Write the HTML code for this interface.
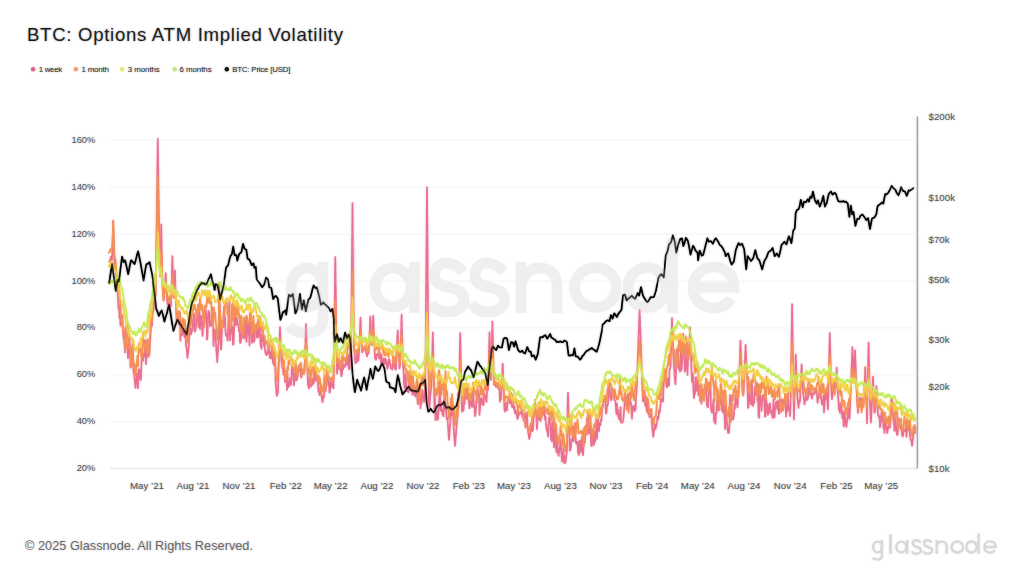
<!DOCTYPE html>
<html><head><meta charset="utf-8"><style>
html,body{margin:0;padding:0;background:#fff;width:1024px;height:576px;overflow:hidden}
svg{display:block;font-family:"Liberation Sans",sans-serif}
</style></head><body>
<svg width="1024" height="576" viewBox="0 0 1024 576">
<defs><filter id="sb" x="0" y="0" width="1024" height="576" filterUnits="userSpaceOnUse"><feGaussianBlur stdDeviation="1"/></filter></defs><g id="chart">
<text x="27" y="41.2" font-size="18.6" fill="#1e1e1e" textLength="316" lengthAdjust="spacing">BTC: Options ATM Implied Volatility</text>
<circle cx="33.1" cy="69.3" r="2.2" fill="#e0638a"/>
<text x="38.7" y="72.2" font-size="7.9" fill="#2a2a2a" textLength="23.5" lengthAdjust="spacing">1 week</text>
<circle cx="75.8" cy="69.3" r="2.2" fill="#f0a070"/>
<text x="81.4" y="72.2" font-size="7.9" fill="#2a2a2a" textLength="27.6" lengthAdjust="spacing">1 month</text>
<circle cx="122.2" cy="69.3" r="2.2" fill="#e6e87a"/>
<text x="127.8" y="72.2" font-size="7.9" fill="#2a2a2a" textLength="32" lengthAdjust="spacing">3 months</text>
<circle cx="174.6" cy="69.3" r="2.2" fill="#c5e88a"/>
<text x="179.5" y="72.2" font-size="7.9" fill="#2a2a2a" textLength="32.1" lengthAdjust="spacing">6 months</text>
<circle cx="226.8" cy="69.3" r="2.2" fill="#111"/>
<text x="232.2" y="72.2" font-size="7.9" fill="#2a2a2a" textLength="58.3" lengthAdjust="spacing">BTC: Price [USD]</text>
<line x1="109" y1="140.4" x2="917" y2="140.4" stroke="#f6f6f6" stroke-width="1"/>
<line x1="109" y1="187.3" x2="917" y2="187.3" stroke="#f6f6f6" stroke-width="1"/>
<line x1="109" y1="234.1" x2="917" y2="234.1" stroke="#f6f6f6" stroke-width="1"/>
<line x1="109" y1="281.0" x2="917" y2="281.0" stroke="#f6f6f6" stroke-width="1"/>
<line x1="109" y1="327.8" x2="917" y2="327.8" stroke="#f6f6f6" stroke-width="1"/>
<line x1="109" y1="374.7" x2="917" y2="374.7" stroke="#f6f6f6" stroke-width="1"/>
<line x1="109" y1="421.5" x2="917" y2="421.5" stroke="#f6f6f6" stroke-width="1"/>
<g fill="none" stroke="#efefef" stroke-width="10.5"><ellipse cx="307" cy="287.5" rx="16" ry="19.5"/>
<path d="M323,262 L323,318 Q323,333 306,333 Q294,333 289,326"/>
<path d="M353.8,241 L353.8,313" stroke-width="3"/>
<ellipse cx="393" cy="287.5" rx="18" ry="19.5"/>
<path d="M414.5,262 L414.5,313"/>
<path d="M463,272 C459,266 452,263 447,263 C438,263 434.5,269 434.5,275 C434.5,293 464,282 464,300 C464,307 457,312 448,312 C440,312 434,309 431,303"/>
<path d="M503.5,272 C499.5,266 492.5,263 487.5,263 C478.5,263 475,269 475,275 C475,293 504.5,282 504.5,300 C504.5,307 497.5,312 488.5,312 C480.5,312 474.5,309 471.5,303"/>
<path d="M521,262 L521,313 M521,290 C521,272 531,268 540,268 C551,268 557,275 557,287 L557,313"/>
<ellipse cx="595.5" cy="287.5" rx="21" ry="20"/>
<ellipse cx="647" cy="287.5" rx="19" ry="20"/>
<path d="M672.5,238 L672.5,313"/>
<path d="M693,287.5 L734,287.5 C734,274 725,267 713.5,267 C702,267 693,276 693,287.5 C693,299 702,308 713.5,308 C721,308 727,305 731,299"/></g>
<line x1="110" y1="468.4" x2="917.4" y2="468.4" stroke="#e6e6e6" stroke-width="1"/>
<line x1="917.4" y1="116.6" x2="917.4" y2="468.4" stroke="#a3a3a3" stroke-width="1.4"/>
<text x="95.3" y="143.0" font-size="9.3" fill="#555" text-anchor="end">160%</text>
<text x="95.3" y="189.9" font-size="9.3" fill="#555" text-anchor="end">140%</text>
<text x="95.3" y="236.7" font-size="9.3" fill="#555" text-anchor="end">120%</text>
<text x="95.3" y="283.6" font-size="9.3" fill="#555" text-anchor="end">100%</text>
<text x="95.3" y="330.40000000000003" font-size="9.3" fill="#555" text-anchor="end">80%</text>
<text x="95.3" y="377.3" font-size="9.3" fill="#555" text-anchor="end">60%</text>
<text x="95.3" y="424.1" font-size="9.3" fill="#555" text-anchor="end">40%</text>
<text x="95.3" y="471.0" font-size="9.3" fill="#555" text-anchor="end">20%</text>
<text x="928.6" y="119.89999999999999" font-size="9.7" fill="#555">$200k</text>
<text x="928.6" y="201.3" font-size="9.7" fill="#555">$100k</text>
<text x="928.6" y="243.20000000000002" font-size="9.7" fill="#555">$70k</text>
<text x="928.6" y="282.7" font-size="9.7" fill="#555">$50k</text>
<text x="928.6" y="342.7" font-size="9.7" fill="#555">$30k</text>
<text x="928.6" y="390.3" font-size="9.7" fill="#555">$20k</text>
<text x="928.6" y="471.7" font-size="9.7" fill="#555">$10k</text>
<text x="147" y="488.6" font-size="9.7" fill="#4f4f4f" text-anchor="middle">May &#8217;21</text>
<text x="193" y="488.6" font-size="9.7" fill="#4f4f4f" text-anchor="middle">Aug &#8217;21</text>
<text x="239" y="488.6" font-size="9.7" fill="#4f4f4f" text-anchor="middle">Nov &#8217;21</text>
<text x="285.8" y="488.6" font-size="9.7" fill="#4f4f4f" text-anchor="middle">Feb &#8217;22</text>
<text x="330.6" y="488.6" font-size="9.7" fill="#4f4f4f" text-anchor="middle">May &#8217;22</text>
<text x="376.9" y="488.6" font-size="9.7" fill="#4f4f4f" text-anchor="middle">Aug &#8217;22</text>
<text x="423" y="488.6" font-size="9.7" fill="#4f4f4f" text-anchor="middle">Nov &#8217;22</text>
<text x="468.8" y="488.6" font-size="9.7" fill="#4f4f4f" text-anchor="middle">Feb &#8217;23</text>
<text x="514" y="488.6" font-size="9.7" fill="#4f4f4f" text-anchor="middle">May &#8217;23</text>
<text x="560.4" y="488.6" font-size="9.7" fill="#4f4f4f" text-anchor="middle">Aug &#8217;23</text>
<text x="606" y="488.6" font-size="9.7" fill="#4f4f4f" text-anchor="middle">Nov &#8217;23</text>
<text x="652.2" y="488.6" font-size="9.7" fill="#4f4f4f" text-anchor="middle">Feb &#8217;24</text>
<text x="697.8" y="488.6" font-size="9.7" fill="#4f4f4f" text-anchor="middle">May &#8217;24</text>
<text x="744" y="488.6" font-size="9.7" fill="#4f4f4f" text-anchor="middle">Aug &#8217;24</text>
<text x="790.2" y="488.6" font-size="9.7" fill="#4f4f4f" text-anchor="middle">Nov &#8217;24</text>
<text x="836.5" y="488.6" font-size="9.7" fill="#4f4f4f" text-anchor="middle">Feb &#8217;25</text>
<text x="881.2" y="488.6" font-size="9.7" fill="#4f4f4f" text-anchor="middle">May &#8217;25</text>
<path d="M108.5,261.5 L109.0,261.6 L109.5,260.9 L110.0,260.7 L110.5,258.6 L111.0,256.8 L111.5,260.9 L112.0,259.1 L112.5,244.0 L113.0,227.2 L113.2,220.5 L113.5,230.6 L114.0,247.6 L114.5,264.6 L115.0,268.0 L115.5,269.7 L116.0,269.8 L116.5,281.3 L117.0,283.9 L117.5,291.0 L118.0,298.9 L118.5,309.0 L119.0,305.2 L119.5,318.0 L120.0,315.3 L120.5,325.8 L121.0,323.9 L121.5,320.6 L122.0,321.6 L122.5,315.4 L123.0,331.5 L123.5,338.7 L124.0,338.8 L124.5,343.3 L125.0,352.4 L125.5,327.2 L126.0,339.9 L126.5,340.7 L127.0,345.6 L127.5,345.9 L128.0,358.2 L128.5,354.5 L129.0,334.9 L129.5,335.0 L130.0,349.1 L130.5,367.8 L131.0,355.8 L131.5,365.7 L132.0,352.8 L132.5,347.2 L133.0,349.5 L133.5,372.9 L134.0,372.2 L134.5,378.1 L135.0,383.4 L135.5,388.0 L136.0,383.4 L136.5,378.6 L137.0,373.7 L137.5,378.6 L138.0,388.2 L138.5,369.4 L139.0,369.3 L139.5,370.4 L140.0,377.0 L140.5,380.2 L141.0,378.7 L141.5,361.1 L142.0,356.9 L142.5,357.6 L143.0,360.8 L143.5,357.1 L144.0,353.3 L144.5,356.6 L145.0,340.1 L145.5,343.0 L146.0,364.2 L146.5,356.3 L147.0,352.1 L147.5,348.7 L148.0,348.7 L148.5,356.7 L149.0,355.0 L149.5,354.3 L150.0,342.1 L150.5,335.6 L151.0,326.9 L151.5,315.5 L152.0,325.9 L152.5,315.6 L153.0,312.4 L153.5,310.1 L154.0,301.9 L154.5,303.7 L155.0,294.2 L155.5,295.9 L156.0,270.7 L156.5,233.0 L157.0,196.1 L157.5,159.9 L157.8,138.6 L158.0,152.7 L158.5,187.7 L159.0,222.7 L159.5,257.5 L160.0,275.3 L160.5,254.8 L161.0,233.3 L161.2,224.4 L161.5,237.9 L162.0,260.8 L162.5,284.3 L163.0,292.9 L163.5,300.6 L164.0,293.8 L164.5,292.3 L165.0,286.0 L165.5,277.0 L165.7,273.2 L166.0,279.0 L166.5,289.0 L167.0,299.6 L167.5,304.1 L168.0,299.2 L168.5,307.1 L169.0,308.0 L169.5,302.0 L170.0,306.0 L170.5,306.7 L171.0,305.0 L171.5,287.9 L172.0,270.4 L172.4,256.0 L172.5,259.6 L173.0,278.2 L173.5,297.2 L174.0,296.4 L174.5,282.1 L174.9,270.3 L175.0,273.3 L175.5,288.6 L176.0,304.4 L176.5,320.7 L177.0,317.2 L177.5,317.0 L178.0,313.0 L178.5,321.0 L179.0,324.4 L179.5,324.6 L180.0,323.4 L180.5,340.8 L181.0,321.3 L181.5,328.5 L182.0,335.2 L182.5,325.7 L183.0,333.8 L183.5,332.8 L184.0,329.4 L184.5,337.3 L185.0,335.5 L185.5,330.7 L186.0,345.9 L186.5,346.8 L187.0,352.7 L187.5,358.0 L188.0,353.2 L188.5,348.6 L189.0,343.7 L189.5,329.7 L190.0,331.0 L190.5,328.2 L191.0,334.4 L191.5,332.0 L192.0,330.7 L192.5,328.0 L193.0,319.7 L193.5,318.2 L194.0,313.5 L194.5,331.2 L195.0,331.5 L195.5,330.3 L196.0,325.9 L196.5,312.5 L197.0,312.1 L197.5,312.8 L198.0,320.6 L198.5,327.0 L199.0,321.4 L199.5,311.9 L200.0,329.2 L200.5,322.9 L201.0,318.6 L201.5,315.8 L202.0,323.7 L202.5,335.9 L203.0,328.3 L203.5,323.5 L204.0,315.7 L204.5,322.6 L205.0,307.1 L205.5,308.7 L206.0,311.0 L206.5,319.5 L207.0,339.6 L207.5,336.5 L208.0,319.2 L208.5,310.8 L209.0,312.3 L209.5,313.7 L210.0,326.3 L210.5,321.6 L211.0,323.6 L211.5,325.2 L212.0,306.9 L212.5,322.9 L213.0,322.1 L213.5,346.1 L214.0,330.2 L214.5,337.8 L215.0,329.5 L215.5,335.8 L216.0,343.9 L216.5,351.4 L217.0,358.4 L217.2,362.3 L217.5,357.1 L218.0,350.4 L218.5,343.6 L218.9,338.1 L219.0,282.8 L219.5,300.6 L220.0,318.3 L220.5,335.8 L221.0,349.6 L221.5,342.7 L222.0,329.4 L222.5,323.9 L223.0,322.6 L223.5,326.9 L224.0,306.6 L224.5,316.8 L225.0,316.7 L225.5,331.5 L226.0,335.6 L226.5,334.2 L227.0,334.5 L227.5,340.7 L228.0,335.5 L228.5,315.6 L229.0,322.5 L229.5,300.6 L230.0,340.5 L230.5,331.9 L231.0,333.7 L231.5,326.5 L232.0,326.9 L232.5,326.9 L233.0,344.7 L233.5,344.5 L234.0,331.9 L234.5,321.0 L235.0,317.7 L235.5,321.3 L236.0,325.2 L236.5,320.2 L237.0,317.6 L237.5,323.3 L238.0,324.3 L238.5,325.1 L239.0,331.5 L239.5,327.9 L240.0,342.5 L240.5,342.9 L241.0,340.6 L241.5,333.4 L242.0,327.9 L242.5,333.0 L243.0,337.7 L243.5,333.4 L244.0,332.3 L244.5,338.5 L245.0,323.0 L245.5,318.7 L246.0,329.0 L246.5,341.7 L247.0,330.8 L247.5,322.1 L248.0,325.7 L248.5,334.4 L249.0,326.3 L249.5,345.6 L250.0,320.6 L250.5,312.2 L251.0,319.3 L251.5,333.2 L252.0,343.0 L252.5,337.9 L253.0,323.9 L253.5,338.6 L254.0,341.8 L254.5,340.8 L255.0,326.2 L255.5,325.6 L256.0,324.9 L256.5,330.5 L257.0,337.6 L257.5,328.4 L258.0,337.2 L258.5,335.8 L259.0,332.6 L259.5,316.0 L260.0,327.8 L260.5,343.7 L261.0,346.0 L261.5,348.9 L262.0,334.0 L262.5,341.1 L263.0,340.4 L263.5,337.0 L264.0,346.3 L264.5,336.6 L265.0,349.9 L265.5,353.1 L266.0,354.2 L266.5,355.2 L267.0,354.4 L267.5,351.4 L268.0,349.6 L268.5,353.3 L269.0,347.5 L269.5,352.3 L270.0,358.1 L270.5,352.7 L271.0,358.4 L271.5,354.3 L272.0,347.3 L272.5,348.6 L273.0,363.3 L273.5,355.7 L274.0,365.4 L274.5,354.1 L275.0,356.5 L275.5,379.6 L276.0,387.0 L276.5,393.0 L276.8,396.0 L277.0,394.1 L277.5,394.1 L278.0,391.6 L278.5,375.1 L279.0,355.3 L279.5,340.6 L280.0,327.0 L280.5,339.6 L281.0,351.2 L281.5,361.8 L282.0,364.1 L282.5,368.3 L283.0,368.4 L283.5,374.7 L284.0,368.4 L284.5,373.8 L285.0,381.9 L285.5,379.2 L286.0,379.4 L286.5,381.0 L287.0,390.1 L287.5,372.9 L288.0,385.2 L288.5,387.0 L289.0,386.5 L289.5,383.6 L290.0,378.3 L290.5,380.5 L291.0,384.8 L291.5,375.4 L292.0,364.1 L292.5,371.6 L293.0,367.2 L293.5,379.1 L294.0,385.5 L294.5,377.6 L295.0,377.7 L295.5,369.2 L296.0,380.1 L296.5,380.3 L297.0,379.4 L297.5,374.0 L298.0,370.6 L298.5,366.2 L299.0,365.4 L299.5,370.6 L300.0,368.5 L300.5,369.8 L301.0,376.7 L301.5,377.6 L302.0,369.5 L302.5,372.3 L303.0,372.5 L303.5,370.7 L304.0,373.1 L304.5,371.8 L305.0,356.1 L305.5,340.1 L306.0,324.0 L306.5,340.3 L307.0,356.8 L307.5,373.5 L308.0,385.0 L308.5,386.2 L309.0,388.5 L309.5,379.8 L310.0,376.0 L310.5,382.4 L311.0,386.6 L311.5,380.2 L312.0,385.1 L312.5,378.5 L313.0,382.3 L313.5,383.7 L314.0,380.4 L314.5,370.4 L315.0,373.2 L315.5,376.4 L316.0,380.8 L316.5,376.5 L317.0,376.6 L317.5,376.4 L318.0,384.9 L318.5,391.8 L319.0,391.1 L319.5,395.1 L320.0,388.6 L320.5,393.2 L321.0,391.6 L321.5,395.4 L322.0,398.9 L322.5,402.0 L323.0,398.9 L323.5,395.5 L324.0,397.3 L324.5,387.7 L325.0,384.1 L325.5,391.3 L326.0,387.8 L326.5,374.7 L327.0,368.1 L327.5,372.3 L328.0,381.2 L328.5,385.6 L329.0,381.9 L329.5,392.7 L330.0,391.4 L330.5,382.3 L331.0,378.3 L331.5,380.9 L332.0,386.9 L332.5,385.6 L333.0,386.3 L333.5,388.4 L334.0,353.6 L334.5,315.8 L335.0,278.8 L335.3,257.0 L335.5,271.5 L336.0,307.6 L336.5,343.5 L337.0,373.8 L337.5,368.9 L338.0,366.0 L338.5,362.9 L339.0,368.8 L339.5,368.0 L340.0,360.8 L340.5,362.0 L341.0,374.2 L341.5,376.2 L342.0,373.9 L342.5,360.8 L343.0,369.5 L343.5,365.8 L344.0,365.1 L344.5,367.0 L345.0,365.8 L345.5,365.3 L346.0,361.4 L346.5,362.4 L347.0,364.7 L347.5,356.5 L348.0,354.9 L348.5,361.3 L349.0,369.0 L349.5,369.3 L350.0,350.9 L350.5,356.7 L351.0,348.0 L351.5,299.3 L352.0,251.0 L352.5,203.0 L353.0,251.0 L353.5,298.9 L354.0,346.8 L354.5,352.1 L355.0,359.0 L355.5,363.2 L356.0,361.5 L356.5,362.2 L357.0,353.9 L357.5,361.4 L358.0,355.6 L358.5,360.3 L359.0,353.3 L359.5,341.2 L360.0,329.3 L360.5,317.6 L361.0,329.2 L361.5,340.6 L362.0,351.8 L362.5,352.2 L363.0,349.1 L363.5,350.2 L364.0,347.5 L364.5,348.6 L365.0,349.0 L365.5,348.6 L366.0,352.6 L366.5,353.0 L367.0,356.3 L367.5,353.6 L368.0,353.1 L368.5,353.5 L369.0,346.7 L369.5,335.2 L370.0,323.6 L370.3,316.6 L370.5,321.3 L371.0,333.0 L371.5,344.8 L372.0,344.7 L372.5,332.6 L373.0,320.6 L373.2,315.7 L373.5,323.0 L374.0,335.2 L374.5,347.5 L375.0,358.7 L375.5,355.0 L376.0,359.9 L376.5,356.1 L377.0,354.2 L377.5,354.0 L378.0,355.1 L378.5,352.4 L379.0,358.4 L379.5,358.2 L380.0,352.9 L380.5,355.7 L381.0,363.0 L381.5,354.7 L382.0,359.5 L382.5,365.2 L383.0,363.7 L383.5,360.4 L384.0,358.6 L384.5,363.3 L385.0,363.9 L385.5,358.6 L386.0,360.6 L386.5,362.6 L387.0,366.1 L387.5,368.6 L388.0,366.9 L388.5,360.7 L389.0,359.1 L389.5,359.7 L390.0,364.4 L390.5,364.1 L391.0,368.3 L391.5,368.9 L392.0,368.3 L392.5,369.5 L393.0,360.7 L393.5,363.1 L394.0,366.4 L394.5,361.8 L395.0,369.0 L395.5,366.9 L396.0,369.6 L396.5,355.8 L397.0,345.3 L397.5,334.6 L397.7,330.3 L398.0,336.8 L398.5,347.9 L399.0,359.2 L399.5,368.5 L400.0,365.0 L400.5,351.1 L401.0,334.9 L401.5,318.1 L401.6,314.7 L402.0,328.7 L402.5,346.8 L403.0,365.5 L403.5,370.3 L404.0,383.2 L404.5,387.0 L405.0,388.3 L405.5,374.1 L406.0,379.9 L406.5,388.8 L407.0,391.2 L407.5,387.4 L408.0,390.5 L408.5,392.3 L409.0,388.9 L409.5,377.1 L410.0,386.1 L410.5,382.8 L411.0,373.5 L411.5,372.1 L412.0,376.4 L412.5,394.7 L413.0,390.0 L413.5,382.2 L414.0,394.4 L414.5,391.3 L415.0,395.7 L415.5,396.6 L416.0,389.7 L416.5,394.4 L417.0,384.3 L417.5,401.5 L418.0,404.3 L418.5,399.1 L419.0,396.9 L419.5,388.7 L420.0,391.5 L420.5,408.5 L421.0,395.5 L421.5,403.9 L422.0,397.1 L422.5,390.1 L423.0,396.4 L423.5,396.3 L424.0,401.7 L424.5,399.4 L425.0,391.9 L425.5,359.2 L426.0,301.8 L426.5,244.4 L427.0,187.0 L427.5,244.6 L428.0,302.6 L428.5,360.8 L429.0,404.1 L429.5,407.0 L430.0,399.6 L430.5,393.8 L431.0,389.9 L431.5,384.1 L432.0,365.8 L432.5,345.0 L432.8,332.3 L433.0,340.8 L433.5,362.4 L434.0,384.3 L434.5,410.7 L435.0,397.8 L435.5,420.2 L436.0,420.0 L436.5,418.1 L437.0,413.3 L437.5,411.0 L438.0,419.6 L438.5,408.7 L439.0,401.5 L439.5,394.0 L440.0,381.4 L440.5,410.7 L441.0,402.5 L441.5,409.0 L442.0,410.2 L442.5,414.4 L443.0,415.4 L443.5,416.2 L444.0,400.2 L444.5,398.9 L445.0,389.7 L445.5,410.3 L446.0,406.1 L446.5,416.8 L447.0,419.3 L447.5,417.5 L448.0,425.2 L448.5,432.7 L449.0,440.0 L449.5,433.1 L450.0,426.4 L450.5,420.1 L451.0,412.8 L451.5,408.3 L452.0,400.4 L452.5,415.5 L453.0,405.9 L453.5,424.4 L454.0,432.0 L454.5,439.2 L455.0,446.0 L455.5,439.7 L456.0,433.8 L456.5,427.4 L457.0,421.5 L457.5,416.4 L458.0,393.3 L458.5,397.4 L459.0,395.5 L459.5,368.9 L460.0,343.2 L460.2,333.2 L460.5,347.9 L461.0,371.5 L461.5,394.0 L462.0,411.8 L462.5,403.7 L463.0,407.6 L463.5,410.6 L464.0,399.0 L464.5,403.8 L465.0,388.2 L465.5,397.2 L466.0,398.6 L466.5,394.8 L467.0,386.7 L467.5,398.8 L468.0,397.7 L468.5,399.4 L469.0,402.9 L469.5,408.4 L470.0,404.3 L470.5,400.1 L471.0,394.5 L471.5,401.0 L472.0,406.9 L472.5,396.7 L473.0,382.6 L473.5,398.2 L474.0,407.1 L474.5,406.4 L475.0,416.1 L475.5,414.2 L476.0,408.4 L476.5,399.4 L477.0,402.2 L477.5,390.4 L478.0,390.3 L478.5,395.7 L479.0,393.3 L479.5,414.9 L480.0,408.3 L480.5,402.0 L481.0,397.8 L481.5,403.3 L482.0,401.7 L482.5,399.0 L483.0,405.2 L483.5,405.0 L484.0,395.7 L484.5,393.9 L485.0,395.9 L485.5,398.0 L486.0,399.1 L486.5,401.9 L487.0,389.4 L487.5,383.9 L488.0,390.4 L488.5,370.4 L489.0,351.1 L489.5,332.3 L490.0,350.4 L490.5,368.0 L491.0,380.0 L491.5,358.6 L492.0,337.8 L492.4,321.5 L492.5,325.5 L493.0,345.4 L493.5,364.9 L494.0,385.1 L494.5,385.0 L495.0,383.3 L495.5,384.9 L496.0,386.8 L496.5,384.4 L497.0,387.0 L497.5,386.4 L498.0,387.9 L498.5,388.3 L499.0,388.5 L499.5,390.8 L500.0,401.8 L500.5,393.4 L501.0,399.1 L501.5,389.4 L502.0,379.1 L502.5,368.1 L502.7,363.5 L503.0,370.5 L503.5,382.8 L504.0,395.7 L504.5,409.6 L505.0,411.6 L505.5,406.9 L506.0,403.2 L506.5,404.6 L507.0,410.5 L507.5,402.3 L508.0,401.1 L508.5,400.5 L509.0,397.1 L509.5,401.1 L510.0,403.4 L510.5,401.2 L511.0,396.8 L511.5,399.0 L512.0,406.9 L512.5,407.1 L513.0,404.3 L513.5,406.0 L514.0,409.7 L514.5,406.6 L515.0,413.3 L515.5,412.2 L516.0,410.7 L516.5,414.2 L517.0,415.9 L517.5,419.1 L518.0,417.3 L518.5,412.1 L519.0,415.0 L519.5,413.8 L520.0,412.5 L520.5,412.1 L521.0,413.5 L521.5,411.1 L522.0,413.7 L522.5,416.8 L523.0,415.4 L523.5,420.6 L524.0,420.5 L524.5,410.7 L525.0,423.1 L525.5,427.6 L526.0,424.4 L526.5,414.4 L527.0,412.3 L527.5,426.3 L528.0,430.5 L528.5,434.2 L529.0,437.4 L529.3,439.0 L529.5,438.0 L530.0,435.3 L530.5,432.4 L531.0,429.4 L531.5,423.1 L532.0,421.8 L532.5,431.1 L533.0,430.2 L533.5,419.8 L534.0,415.1 L534.5,407.1 L535.0,399.6 L535.5,406.6 L536.0,413.2 L536.5,419.2 L537.0,429.1 L537.5,418.7 L538.0,413.0 L538.5,419.6 L539.0,413.7 L539.5,411.8 L540.0,418.5 L540.5,421.3 L541.0,418.1 L541.5,414.7 L542.0,415.9 L542.5,413.7 L543.0,414.8 L543.5,408.7 L544.0,405.3 L544.5,407.6 L545.0,419.8 L545.5,416.5 L546.0,424.7 L546.5,428.0 L547.0,431.1 L547.5,431.1 L548.0,436.7 L548.5,424.6 L549.0,417.9 L549.5,417.1 L550.0,421.4 L550.5,423.1 L551.0,439.2 L551.5,438.5 L552.0,441.5 L552.5,422.4 L553.0,420.7 L553.5,433.3 L554.0,447.5 L554.5,428.0 L555.0,435.4 L555.5,428.1 L556.0,447.5 L556.5,452.5 L557.0,441.3 L557.5,446.5 L558.0,451.1 L558.5,455.2 L558.6,456.0 L559.0,453.1 L559.5,449.7 L560.0,446.7 L560.5,439.8 L561.0,446.2 L561.5,454.6 L562.0,461.4 L562.5,458.4 L563.0,454.4 L563.5,447.7 L564.0,462.9 L564.5,456.0 L565.0,460.0 L565.4,463.0 L565.5,462.3 L566.0,458.4 L566.5,454.3 L567.0,449.9 L567.5,410.0 L568.0,392.8 L568.5,409.6 L569.0,425.8 L569.5,441.2 L570.0,450.6 L570.5,449.3 L571.0,446.5 L571.5,439.7 L572.0,440.7 L572.5,438.3 L573.0,426.3 L573.5,441.3 L574.0,429.2 L574.5,428.3 L575.0,422.9 L575.5,436.0 L576.0,443.3 L576.5,443.7 L577.0,442.3 L577.5,441.9 L578.0,451.6 L578.5,454.7 L579.0,454.9 L579.5,441.0 L580.0,440.9 L580.5,440.6 L581.0,452.0 L581.5,442.4 L582.0,436.8 L582.5,452.4 L583.0,455.3 L583.5,447.6 L584.0,443.3 L584.5,442.8 L585.0,441.8 L585.5,425.9 L586.0,427.6 L586.5,431.6 L587.0,417.8 L587.5,433.7 L588.0,421.0 L588.5,431.4 L589.0,433.4 L589.5,420.6 L590.0,420.8 L590.5,414.7 L591.0,442.8 L591.5,446.2 L592.0,445.8 L592.5,435.7 L593.0,429.9 L593.5,433.4 L594.0,444.9 L594.5,431.8 L595.0,442.0 L595.5,437.4 L596.0,432.2 L596.5,417.7 L597.0,438.8 L597.5,418.3 L598.0,416.1 L598.5,426.9 L599.0,431.3 L599.5,422.5 L600.0,424.5 L600.5,425.0 L601.0,419.4 L601.5,420.4 L602.0,409.8 L602.5,407.9 L603.0,404.5 L603.5,401.4 L604.0,401.6 L604.5,399.3 L605.0,400.3 L605.5,403.1 L606.0,413.7 L606.5,412.8 L607.0,405.0 L607.5,405.7 L608.0,403.4 L608.5,393.5 L609.0,384.6 L609.5,388.4 L610.0,392.0 L610.5,397.9 L611.0,400.3 L611.5,399.2 L612.0,388.0 L612.5,390.0 L613.0,390.8 L613.5,391.5 L614.0,396.5 L614.5,400.1 L615.0,400.8 L615.5,401.7 L616.0,408.7 L616.5,414.3 L617.0,403.7 L617.5,412.3 L618.0,410.0 L618.5,417.8 L619.0,417.7 L619.5,419.9 L620.0,414.5 L620.5,407.0 L621.0,422.6 L621.5,422.7 L622.0,422.6 L622.5,422.6 L623.0,421.0 L623.5,417.6 L624.0,411.2 L624.5,405.7 L625.0,395.3 L625.5,399.2 L626.0,404.4 L626.5,403.4 L627.0,396.0 L627.5,405.3 L628.0,393.5 L628.5,407.2 L629.0,403.0 L629.5,403.9 L630.0,400.4 L630.5,404.3 L631.0,402.3 L631.5,411.7 L632.0,418.6 L632.5,406.0 L633.0,409.1 L633.5,406.7 L634.0,407.9 L634.5,411.3 L635.0,404.8 L635.5,410.0 L636.0,397.2 L636.5,392.4 L637.0,378.6 L637.5,365.4 L638.0,352.2 L638.5,339.0 L639.0,325.8 L639.5,312.5 L639.6,309.8 L640.0,320.5 L640.5,333.8 L641.0,347.4 L641.5,361.2 L642.0,375.2 L642.5,389.4 L643.0,401.5 L643.5,391.7 L644.0,390.3 L644.5,394.4 L645.0,404.1 L645.5,405.9 L646.0,399.9 L646.5,408.0 L647.0,411.7 L647.5,398.0 L648.0,412.8 L648.5,414.0 L649.0,409.3 L649.5,417.1 L650.0,409.5 L650.5,416.3 L651.0,413.5 L651.5,418.9 L652.0,424.7 L652.5,430.0 L653.0,434.6 L653.3,437.0 L653.5,435.4 L654.0,430.9 L654.5,425.6 L655.0,424.6 L655.5,429.2 L656.0,424.8 L656.5,425.7 L657.0,421.2 L657.5,416.7 L658.0,419.7 L658.5,417.6 L659.0,410.2 L659.5,412.9 L660.0,410.5 L660.5,404.6 L661.0,399.0 L661.5,401.3 L662.0,398.6 L662.5,398.3 L663.0,401.6 L663.5,386.4 L664.0,380.5 L664.5,379.8 L665.0,369.7 L665.5,369.6 L666.0,376.6 L666.5,386.6 L667.0,387.3 L667.5,382.4 L668.0,379.2 L668.5,377.9 L669.0,385.7 L669.5,370.2 L670.0,368.4 L670.5,367.3 L671.0,350.6 L671.5,334.2 L672.0,318.0 L672.5,333.9 L673.0,349.4 L673.5,358.0 L674.0,366.1 L674.5,373.7 L675.0,380.6 L675.5,384.4 L676.0,372.5 L676.5,349.8 L677.0,359.0 L677.5,348.0 L678.0,354.1 L678.5,364.6 L679.0,369.3 L679.5,366.6 L680.0,371.6 L680.5,355.7 L681.0,344.8 L681.5,370.0 L682.0,363.1 L682.5,350.5 L683.0,333.6 L683.5,354.2 L684.0,353.8 L684.5,361.6 L685.0,371.8 L685.5,369.6 L686.0,364.1 L686.5,342.2 L687.0,356.9 L687.5,375.1 L688.0,358.7 L688.5,358.9 L689.0,352.6 L689.5,340.3 L690.0,327.3 L690.5,341.2 L691.0,355.8 L691.5,369.4 L692.0,381.9 L692.5,381.1 L693.0,373.7 L693.5,391.8 L694.0,398.1 L694.5,393.1 L695.0,394.0 L695.5,377.4 L696.0,377.2 L696.5,385.7 L697.0,390.9 L697.5,380.1 L698.0,388.5 L698.5,395.3 L699.0,379.8 L699.5,392.4 L700.0,393.2 L700.5,399.2 L701.0,401.4 L701.5,403.6 L702.0,393.4 L702.5,389.5 L703.0,395.5 L703.5,395.1 L704.0,394.6 L704.5,388.7 L705.0,385.8 L705.5,392.4 L706.0,378.6 L706.5,395.1 L707.0,406.1 L707.5,398.5 L708.0,407.4 L708.5,397.4 L709.0,393.5 L709.5,389.3 L710.0,382.0 L710.5,385.2 L711.0,408.3 L711.5,411.0 L712.0,412.7 L712.5,409.7 L713.0,404.8 L713.5,399.6 L714.0,420.2 L714.5,422.4 L715.0,416.1 L715.5,423.8 L716.0,412.6 L716.5,413.6 L717.0,402.4 L717.5,396.7 L718.0,392.6 L718.5,410.4 L719.0,401.2 L719.5,398.4 L720.0,398.7 L720.5,403.8 L721.0,399.6 L721.5,396.9 L722.0,410.7 L722.5,406.8 L723.0,412.7 L723.5,406.4 L724.0,399.5 L724.5,414.8 L725.0,429.2 L725.5,423.2 L726.0,405.8 L726.5,416.3 L727.0,422.3 L727.5,427.9 L728.0,433.0 L728.5,427.9 L729.0,432.8 L729.5,423.9 L730.0,395.2 L730.5,408.0 L731.0,401.1 L731.5,401.2 L732.0,418.4 L732.5,416.9 L733.0,419.6 L733.5,417.7 L734.0,413.8 L734.5,404.0 L735.0,408.4 L735.5,393.7 L736.0,393.8 L736.5,401.4 L737.0,404.7 L737.5,407.4 L738.0,398.2 L738.5,395.7 L739.0,381.6 L739.5,367.8 L740.0,354.1 L740.5,340.6 L741.0,353.9 L741.5,366.9 L742.0,379.8 L742.5,392.4 L743.0,393.8 L743.5,394.4 L744.0,382.4 L744.5,370.5 L745.0,358.8 L745.5,347.2 L745.6,344.9 L746.0,354.1 L746.5,365.4 L747.0,376.5 L747.5,387.6 L748.0,407.9 L748.5,407.5 L749.0,396.7 L749.5,392.9 L750.0,400.2 L750.5,401.7 L751.0,404.4 L751.5,394.4 L752.0,383.2 L752.5,403.7 L753.0,405.8 L753.5,401.6 L754.0,403.5 L754.5,394.9 L755.0,386.7 L755.5,395.0 L756.0,394.5 L756.5,391.4 L757.0,382.9 L757.5,401.4 L758.0,387.5 L758.5,415.5 L759.0,417.8 L759.5,399.5 L760.0,391.9 L760.5,399.4 L761.0,401.0 L761.5,411.0 L762.0,401.9 L762.5,396.6 L763.0,395.4 L763.5,400.0 L764.0,394.6 L764.5,405.3 L765.0,416.6 L765.5,416.5 L766.0,397.1 L766.5,402.0 L767.0,411.9 L767.5,404.3 L768.0,414.9 L768.5,412.4 L769.0,408.7 L769.5,405.1 L770.0,403.3 L770.5,413.0 L771.0,413.0 L771.5,411.1 L772.0,414.1 L772.5,418.0 L773.0,410.9 L773.5,399.2 L774.0,414.2 L774.5,417.7 L775.0,409.1 L775.5,408.3 L776.0,402.2 L776.5,401.6 L777.0,403.0 L777.5,409.5 L778.0,400.3 L778.5,408.6 L779.0,414.0 L779.5,408.4 L780.0,400.8 L780.5,400.8 L781.0,405.7 L781.5,399.1 L782.0,399.8 L782.5,404.8 L783.0,410.7 L783.5,401.8 L784.0,399.6 L784.5,398.9 L785.0,400.2 L785.5,397.0 L786.0,416.8 L786.5,407.9 L787.0,411.8 L787.5,409.1 L788.0,395.7 L788.5,409.6 L789.0,408.0 L789.5,407.2 L790.0,416.2 L790.5,406.6 L791.0,375.0 L791.5,342.7 L792.0,310.4 L792.1,304.0 L792.5,329.7 L793.0,361.9 L793.5,393.9 L794.0,419.6 L794.5,396.1 L795.0,379.9 L795.5,364.0 L795.8,354.6 L796.0,360.8 L796.5,375.9 L797.0,390.7 L797.5,399.1 L798.0,402.6 L798.5,407.9 L799.0,401.0 L799.5,402.7 L800.0,400.7 L800.5,388.1 L801.0,377.1 L801.5,366.4 L801.6,364.3 L802.0,372.6 L802.5,382.6 L803.0,392.3 L803.5,396.2 L804.0,399.1 L804.5,404.4 L805.0,400.6 L805.5,400.1 L806.0,393.2 L806.5,399.5 L807.0,398.3 L807.5,400.0 L808.0,396.4 L808.5,396.6 L809.0,387.4 L809.5,392.9 L810.0,390.7 L810.5,394.8 L811.0,389.8 L811.5,391.9 L812.0,398.6 L812.5,394.4 L813.0,393.9 L813.5,393.3 L814.0,394.4 L814.5,388.7 L815.0,389.6 L815.5,389.7 L816.0,393.0 L816.5,389.3 L817.0,393.9 L817.5,402.8 L818.0,399.4 L818.5,397.5 L819.0,393.9 L819.5,394.4 L820.0,393.0 L820.5,387.5 L821.0,397.5 L821.5,400.5 L822.0,404.6 L822.5,403.2 L823.0,404.2 L823.5,395.6 L824.0,412.5 L824.5,404.9 L825.0,390.7 L825.5,390.5 L826.0,399.7 L826.5,390.4 L827.0,391.8 L827.5,402.4 L828.0,409.5 L828.5,384.4 L829.0,364.5 L829.5,344.8 L829.8,333.0 L830.0,340.8 L830.5,360.3 L831.0,379.6 L831.5,393.1 L832.0,399.3 L832.5,392.9 L833.0,389.2 L833.5,389.7 L834.0,381.7 L834.5,386.0 L835.0,387.4 L835.5,389.3 L836.0,381.2 L836.5,371.5 L836.7,367.5 L837.0,373.7 L837.5,384.4 L838.0,395.7 L838.5,401.4 L839.0,410.3 L839.5,408.7 L840.0,413.0 L840.5,403.0 L841.0,408.7 L841.5,407.0 L842.0,414.6 L842.5,418.4 L843.0,412.4 L843.5,425.4 L844.0,426.4 L844.5,410.9 L845.0,416.0 L845.5,420.1 L846.0,423.9 L846.4,427.0 L846.5,426.2 L847.0,422.2 L847.5,418.1 L848.0,414.0 L848.5,408.7 L849.0,409.6 L849.5,418.9 L850.0,409.1 L850.5,396.1 L851.0,383.1 L851.5,370.1 L852.0,357.3 L852.4,347.0 L852.5,349.6 L853.0,362.3 L853.5,375.0 L854.0,374.4 L854.5,362.3 L855.0,350.3 L855.5,362.3 L856.0,374.2 L856.5,386.0 L857.0,397.8 L857.5,406.7 L858.0,413.0 L858.5,400.4 L859.0,405.8 L859.5,397.1 L860.0,407.1 L860.5,403.8 L861.0,400.0 L861.5,398.1 L862.0,400.3 L862.5,404.9 L863.0,407.0 L863.5,404.9 L864.0,394.2 L864.5,386.0 L865.0,372.4 L865.2,367.0 L865.5,375.2 L866.0,389.0 L866.5,402.9 L867.0,423.4 L867.5,390.1 L868.0,368.6 L868.5,347.0 L868.6,342.7 L869.0,360.1 L869.5,382.0 L870.0,404.0 L870.5,414.1 L871.0,422.7 L871.5,411.2 L872.0,399.8 L872.5,388.2 L873.0,376.5 L873.5,388.4 L874.0,400.5 L874.5,412.8 L875.0,411.7 L875.5,404.6 L876.0,395.4 L876.5,386.0 L877.0,395.6 L877.5,405.4 L878.0,415.3 L878.5,416.2 L879.0,417.1 L879.5,416.1 L880.0,427.2 L880.5,423.2 L881.0,421.3 L881.5,412.3 L882.0,412.7 L882.5,412.5 L883.0,419.3 L883.5,428.1 L884.0,426.4 L884.5,432.9 L885.0,419.1 L885.5,420.9 L886.0,424.4 L886.5,427.8 L887.0,431.1 L887.3,433.0 L887.5,431.7 L888.0,428.7 L888.5,425.7 L889.0,425.2 L889.5,417.9 L890.0,427.8 L890.5,420.9 L891.0,413.7 L891.5,406.3 L892.0,399.0 L892.5,406.4 L893.0,412.5 L893.5,421.7 L894.0,422.7 L894.5,431.0 L895.0,425.9 L895.5,416.0 L896.0,425.2 L896.5,431.6 L897.0,434.8 L897.5,435.1 L898.0,428.0 L898.5,418.3 L899.0,419.3 L899.5,423.9 L900.0,425.9 L900.5,429.2 L901.0,426.8 L901.5,427.2 L902.0,435.5 L902.5,434.0 L903.0,436.4 L903.5,428.9 L904.0,431.2 L904.5,430.2 L905.0,430.8 L905.5,431.6 L906.0,425.7 L906.5,437.0 L907.0,429.3 L907.5,422.3 L908.0,430.1 L908.5,424.2 L909.0,425.3 L909.5,430.2 L910.0,435.0 L910.5,439.2 L911.0,439.4 L911.5,442.2 L912.0,445.3 L912.1,446.0 L912.5,442.9 L913.0,438.4 L913.5,433.2 L914.0,433.1 L914.5,431.7 L915.0,432.9 L915.5,426.8" fill="none" stroke="#eb7090" stroke-width="1.7" stroke-linejoin="round"/>
<path d="M108.5,251.7 L109.0,252.6 L109.5,252.0 L110.0,251.5 L110.5,249.2 L111.0,249.4 L111.5,248.9 L112.0,248.8 L112.5,243.1 L113.0,227.0 L113.2,220.5 L113.5,230.2 L114.0,246.2 L114.5,255.5 L115.0,257.8 L115.5,258.8 L116.0,265.2 L116.5,273.5 L117.0,277.4 L117.5,284.5 L118.0,293.3 L118.5,288.0 L119.0,284.8 L119.5,294.3 L120.0,301.4 L120.5,305.0 L121.0,313.7 L121.5,322.4 L122.0,318.5 L122.5,326.4 L123.0,331.3 L123.5,328.9 L124.0,331.6 L124.5,344.3 L125.0,338.9 L125.5,349.8 L126.0,346.5 L126.5,344.8 L127.0,339.5 L127.5,324.4 L128.0,333.4 L128.5,328.4 L129.0,343.0 L129.5,349.1 L130.0,347.9 L130.5,348.1 L131.0,366.6 L131.5,360.8 L132.0,347.5 L132.5,343.9 L133.0,358.6 L133.5,362.7 L134.0,367.0 L134.5,364.1 L135.0,371.5 L135.5,375.6 L136.0,368.9 L136.5,364.5 L137.0,360.0 L137.5,355.8 L138.0,366.5 L138.5,348.8 L139.0,343.4 L139.5,344.3 L140.0,352.0 L140.5,348.6 L141.0,356.4 L141.5,355.0 L142.0,358.4 L142.5,344.8 L143.0,332.1 L143.5,342.7 L144.0,345.5 L144.5,348.7 L145.0,348.7 L145.5,344.0 L146.0,345.1 L146.5,352.7 L147.0,341.7 L147.5,339.2 L148.0,342.5 L148.5,354.9 L149.0,348.5 L149.5,339.7 L150.0,336.9 L150.5,321.8 L151.0,319.1 L151.5,309.0 L152.0,321.3 L152.5,301.4 L153.0,297.2 L153.5,299.6 L154.0,297.5 L154.5,295.0 L155.0,292.4 L155.5,293.4 L156.0,269.6 L156.5,242.8 L157.0,216.7 L157.5,191.2 L157.8,176.2 L158.0,185.7 L158.5,210.3 L159.0,235.2 L159.5,260.4 L160.0,276.7 L160.5,266.5 L161.0,255.5 L161.2,250.7 L161.5,258.4 L162.0,271.4 L162.5,284.6 L163.0,295.6 L163.5,297.7 L164.0,298.7 L164.5,292.1 L165.0,288.5 L165.5,284.4 L165.7,282.8 L166.0,285.6 L166.5,290.6 L167.0,295.8 L167.5,294.6 L168.0,297.9 L168.5,301.2 L169.0,301.0 L169.5,298.7 L170.0,296.1 L170.5,301.8 L171.0,300.2 L171.5,291.7 L172.0,283.0 L172.4,275.8 L172.5,277.8 L173.0,287.5 L173.5,297.5 L174.0,297.9 L174.5,291.3 L174.9,285.8 L175.0,287.3 L175.5,294.9 L176.0,302.9 L176.5,307.6 L177.0,316.8 L177.5,321.2 L178.0,317.3 L178.5,315.7 L179.0,310.8 L179.5,317.3 L180.0,312.0 L180.5,317.6 L181.0,333.4 L181.5,327.8 L182.0,324.5 L182.5,322.7 L183.0,318.4 L183.5,323.1 L184.0,325.7 L184.5,319.6 L185.0,322.7 L185.5,329.3 L186.0,327.9 L186.5,333.1 L187.0,338.0 L187.5,342.7 L188.0,339.0 L188.5,334.8 L189.0,330.2 L189.5,312.8 L190.0,315.9 L190.5,326.1 L191.0,322.7 L191.5,319.0 L192.0,312.9 L192.5,312.5 L193.0,309.9 L193.5,305.7 L194.0,308.0 L194.5,304.5 L195.0,306.8 L195.5,310.2 L196.0,309.7 L196.5,317.7 L197.0,317.1 L197.5,311.7 L198.0,305.0 L198.5,304.3 L199.0,309.3 L199.5,310.9 L200.0,298.5 L200.5,303.3 L201.0,304.9 L201.5,310.2 L202.0,305.6 L202.5,305.2 L203.0,317.4 L203.5,314.0 L204.0,327.4 L204.5,310.6 L205.0,312.6 L205.5,305.0 L206.0,306.5 L206.5,306.9 L207.0,297.9 L207.5,302.0 L208.0,302.7 L208.5,297.2 L209.0,300.3 L209.5,297.6 L210.0,303.2 L210.5,300.5 L211.0,299.7 L211.5,308.8 L212.0,320.2 L212.5,321.0 L213.0,325.2 L213.5,319.5 L214.0,307.6 L214.5,315.2 L215.0,312.3 L215.5,317.8 L216.0,324.5 L216.5,331.1 L217.0,337.4 L217.2,339.9 L217.5,336.4 L218.0,330.4 L218.5,324.5 L218.9,319.7 L219.0,296.4 L219.5,303.7 L220.0,310.9 L220.5,318.1 L221.0,328.0 L221.5,320.4 L222.0,329.4 L222.5,325.4 L223.0,324.4 L223.5,312.7 L224.0,311.8 L224.5,314.3 L225.0,306.9 L225.5,301.7 L226.0,300.1 L226.5,301.5 L227.0,303.3 L227.5,314.8 L228.0,313.0 L228.5,312.9 L229.0,306.7 L229.5,326.1 L230.0,328.5 L230.5,326.2 L231.0,327.3 L231.5,326.2 L232.0,305.3 L232.5,303.4 L233.0,316.8 L233.5,321.5 L234.0,314.4 L234.5,303.0 L235.0,304.0 L235.5,316.7 L236.0,312.4 L236.5,315.3 L237.0,308.2 L237.5,315.0 L238.0,303.7 L238.5,309.2 L239.0,317.5 L239.5,314.7 L240.0,325.8 L240.5,330.0 L241.0,321.7 L241.5,315.9 L242.0,327.1 L242.5,331.6 L243.0,336.6 L243.5,332.5 L244.0,318.4 L244.5,317.4 L245.0,320.8 L245.5,320.4 L246.0,320.8 L246.5,315.5 L247.0,316.6 L247.5,320.0 L248.0,324.2 L248.5,322.3 L249.0,321.4 L249.5,322.0 L250.0,313.3 L250.5,313.0 L251.0,312.2 L251.5,327.1 L252.0,334.5 L252.5,330.2 L253.0,323.4 L253.5,316.0 L254.0,329.2 L254.5,329.2 L255.0,332.3 L255.5,325.0 L256.0,324.5 L256.5,328.5 L257.0,323.0 L257.5,328.6 L258.0,318.5 L258.5,318.4 L259.0,323.7 L259.5,326.7 L260.0,318.2 L260.5,317.6 L261.0,322.4 L261.5,331.5 L262.0,328.6 L262.5,326.2 L263.0,329.9 L263.5,335.9 L264.0,335.5 L264.5,335.7 L265.0,340.9 L265.5,341.7 L266.0,343.7 L266.5,343.3 L267.0,343.6 L267.5,340.5 L268.0,348.0 L268.5,349.3 L269.0,347.1 L269.5,348.7 L270.0,343.0 L270.5,342.8 L271.0,341.2 L271.5,340.5 L272.0,344.4 L272.5,352.2 L273.0,351.5 L273.5,355.6 L274.0,352.3 L274.5,350.5 L275.0,356.7 L275.5,367.2 L276.0,373.6 L276.5,377.9 L276.8,381.0 L277.0,379.1 L277.5,379.9 L278.0,371.2 L278.5,363.7 L279.0,354.0 L279.5,346.9 L280.0,340.2 L280.5,345.8 L281.0,351.1 L281.5,351.7 L282.0,356.5 L282.5,355.9 L283.0,364.4 L283.5,361.7 L284.0,360.0 L284.5,369.2 L285.0,372.4 L285.5,380.5 L286.0,376.3 L286.5,370.7 L287.0,374.8 L287.5,367.0 L288.0,370.4 L288.5,360.3 L289.0,364.7 L289.5,364.4 L290.0,357.4 L290.5,356.9 L291.0,359.3 L291.5,359.7 L292.0,359.9 L292.5,359.2 L293.0,363.1 L293.5,362.9 L294.0,367.4 L294.5,370.3 L295.0,366.4 L295.5,363.3 L296.0,364.1 L296.5,372.5 L297.0,373.7 L297.5,375.8 L298.0,376.4 L298.5,370.6 L299.0,366.9 L299.5,367.3 L300.0,365.1 L300.5,363.1 L301.0,363.0 L301.5,369.3 L302.0,369.8 L302.5,372.2 L303.0,374.1 L303.5,369.2 L304.0,374.5 L304.5,365.6 L305.0,357.8 L305.5,349.8 L306.0,341.7 L306.5,350.2 L307.0,358.8 L307.5,367.6 L308.0,372.8 L308.5,368.2 L309.0,373.4 L309.5,369.4 L310.0,376.5 L310.5,383.8 L311.0,375.6 L311.5,371.1 L312.0,367.3 L312.5,370.6 L313.0,366.8 L313.5,376.5 L314.0,372.2 L314.5,369.4 L315.0,364.8 L315.5,372.1 L316.0,370.8 L316.5,374.4 L317.0,375.7 L317.5,380.4 L318.0,380.2 L318.5,375.3 L319.0,377.6 L319.5,383.5 L320.0,378.1 L320.5,393.6 L321.0,384.1 L321.5,390.9 L322.0,388.5 L322.5,391.7 L323.0,388.7 L323.5,385.6 L324.0,382.4 L324.5,375.1 L325.0,391.0 L325.5,385.7 L326.0,383.5 L326.5,374.2 L327.0,376.5 L327.5,371.9 L328.0,374.7 L328.5,376.3 L329.0,376.4 L329.5,378.3 L330.0,380.0 L330.5,381.0 L331.0,380.5 L331.5,378.2 L332.0,379.6 L332.5,377.1 L333.0,375.5 L333.5,380.2 L334.0,355.0 L334.5,333.1 L335.0,311.8 L335.3,299.5 L335.5,307.5 L336.0,327.4 L336.5,347.4 L337.0,363.1 L337.5,362.5 L338.0,358.9 L338.5,355.8 L339.0,359.6 L339.5,361.0 L340.0,366.2 L340.5,367.9 L341.0,367.7 L341.5,360.7 L342.0,355.7 L342.5,360.4 L343.0,354.4 L343.5,360.4 L344.0,357.9 L344.5,357.9 L345.0,358.6 L345.5,362.6 L346.0,358.1 L346.5,358.1 L347.0,355.2 L347.5,346.4 L348.0,348.6 L348.5,345.9 L349.0,339.2 L349.5,344.1 L350.0,349.7 L350.5,354.5 L351.0,343.5 L351.5,319.0 L352.0,294.6 L352.5,270.8 L353.0,294.9 L353.5,319.0 L354.0,343.2 L354.5,350.6 L355.0,353.7 L355.5,351.1 L356.0,351.7 L356.5,350.1 L357.0,352.4 L357.5,352.9 L358.0,349.0 L358.5,350.3 L359.0,348.9 L359.5,342.7 L360.0,336.5 L360.5,330.4 L361.0,336.3 L361.5,342.2 L362.0,348.0 L362.5,349.7 L363.0,349.4 L363.5,350.1 L364.0,349.6 L364.5,346.9 L365.0,345.9 L365.5,346.8 L366.0,346.2 L366.5,344.9 L367.0,348.6 L367.5,350.6 L368.0,351.4 L368.5,351.2 L369.0,345.5 L369.5,339.4 L370.0,333.4 L370.3,329.7 L370.5,332.2 L371.0,338.4 L371.5,344.6 L372.0,344.6 L372.5,338.3 L373.0,331.9 L373.2,329.4 L373.5,333.2 L374.0,339.7 L374.5,344.4 L375.0,349.2 L375.5,348.9 L376.0,349.2 L376.5,347.5 L377.0,349.0 L377.5,345.0 L378.0,348.0 L378.5,348.8 L379.0,354.3 L379.5,350.4 L380.0,345.0 L380.5,347.9 L381.0,347.4 L381.5,344.0 L382.0,347.8 L382.5,347.8 L383.0,350.0 L383.5,353.5 L384.0,350.6 L384.5,355.5 L385.0,355.4 L385.5,353.3 L386.0,355.4 L386.5,349.7 L387.0,349.0 L387.5,353.3 L388.0,352.5 L388.5,356.8 L389.0,354.4 L389.5,351.1 L390.0,349.8 L390.5,351.5 L391.0,351.6 L391.5,351.3 L392.0,352.8 L392.5,353.9 L393.0,359.8 L393.5,363.3 L394.0,356.6 L394.5,358.7 L395.0,363.6 L395.5,361.9 L396.0,359.1 L396.5,353.9 L397.0,348.8 L397.5,343.7 L397.7,341.6 L398.0,344.9 L398.5,350.5 L399.0,356.3 L399.5,360.1 L400.0,364.9 L400.5,352.6 L401.0,344.4 L401.5,335.8 L401.6,334.1 L402.0,341.7 L402.5,351.6 L403.0,361.7 L403.5,360.2 L404.0,361.4 L404.5,361.1 L405.0,368.1 L405.5,370.1 L406.0,368.9 L406.5,372.7 L407.0,370.7 L407.5,372.9 L408.0,380.2 L408.5,382.5 L409.0,379.3 L409.5,370.5 L410.0,374.1 L410.5,378.6 L411.0,385.9 L411.5,387.8 L412.0,387.1 L412.5,377.7 L413.0,372.8 L413.5,389.2 L414.0,389.8 L414.5,386.4 L415.0,387.7 L415.5,387.2 L416.0,388.9 L416.5,382.0 L417.0,379.0 L417.5,381.5 L418.0,385.5 L418.5,400.3 L419.0,403.2 L419.5,392.9 L420.0,397.3 L420.5,385.7 L421.0,383.0 L421.5,378.5 L422.0,375.6 L422.5,385.3 L423.0,384.3 L423.5,375.4 L424.0,384.0 L424.5,380.5 L425.0,370.6 L425.5,369.5 L426.0,350.4 L426.5,331.4 L427.0,312.5 L427.5,331.6 L428.0,350.9 L428.5,370.3 L429.0,385.2 L429.5,389.4 L430.0,386.6 L430.5,373.3 L431.0,376.1 L431.5,379.1 L432.0,369.6 L432.5,359.9 L432.8,354.0 L433.0,358.1 L433.5,368.7 L434.0,379.5 L434.5,383.7 L435.0,393.2 L435.5,395.0 L436.0,396.3 L436.5,388.9 L437.0,389.3 L437.5,394.2 L438.0,391.9 L438.5,373.7 L439.0,370.2 L439.5,373.1 L440.0,386.3 L440.5,385.1 L441.0,384.1 L441.5,395.0 L442.0,387.0 L442.5,387.8 L443.0,382.5 L443.5,389.5 L444.0,390.5 L444.5,402.1 L445.0,377.8 L445.5,370.9 L446.0,387.6 L446.5,395.0 L447.0,391.1 L447.5,400.2 L448.0,406.4 L448.5,412.6 L449.0,418.7 L449.5,413.1 L450.0,407.5 L450.5,407.8 L451.0,398.3 L451.5,409.7 L452.0,394.1 L452.5,400.1 L453.0,404.9 L453.5,405.6 L454.0,412.3 L454.5,418.8 L455.0,425.1 L455.5,419.8 L456.0,414.7 L456.5,409.1 L457.0,414.7 L457.5,417.2 L458.0,409.3 L458.5,407.1 L459.0,391.9 L459.5,378.5 L460.0,365.4 L460.2,360.2 L460.5,367.4 L461.0,379.1 L461.5,390.3 L462.0,400.1 L462.5,399.9 L463.0,395.8 L463.5,397.2 L464.0,386.9 L464.5,383.9 L465.0,392.8 L465.5,396.4 L466.0,394.1 L466.5,390.9 L467.0,388.6 L467.5,389.5 L468.0,387.1 L468.5,399.6 L469.0,398.9 L469.5,398.1 L470.0,393.3 L470.5,396.4 L471.0,400.4 L471.5,397.1 L472.0,390.4 L472.5,389.4 L473.0,386.3 L473.5,386.6 L474.0,386.3 L474.5,390.7 L475.0,392.3 L475.5,394.2 L476.0,395.8 L476.5,390.8 L477.0,401.6 L477.5,382.8 L478.0,387.5 L478.5,382.5 L479.0,382.5 L479.5,386.2 L480.0,382.9 L480.5,393.6 L481.0,394.8 L481.5,385.9 L482.0,390.0 L482.5,392.2 L483.0,396.4 L483.5,392.0 L484.0,389.4 L484.5,389.8 L485.0,385.6 L485.5,386.2 L486.0,389.9 L486.5,387.0 L487.0,380.6 L487.5,384.5 L488.0,380.8 L488.5,373.2 L489.0,362.9 L489.5,352.9 L490.0,362.1 L490.5,371.1 L491.0,377.1 L491.5,365.4 L492.0,354.1 L492.4,345.2 L492.5,347.4 L493.0,358.3 L493.5,369.3 L494.0,383.2 L494.5,384.1 L495.0,383.8 L495.5,381.9 L496.0,381.7 L496.5,383.8 L497.0,385.5 L497.5,386.3 L498.0,383.6 L498.5,382.6 L499.0,388.2 L499.5,385.0 L500.0,386.0 L500.5,389.4 L501.0,382.9 L501.5,386.2 L502.0,382.1 L502.5,377.3 L502.7,375.2 L503.0,378.8 L503.5,385.0 L504.0,391.5 L504.5,402.8 L505.0,399.5 L505.5,396.1 L506.0,397.8 L506.5,396.7 L507.0,397.7 L507.5,397.1 L508.0,398.1 L508.5,401.7 L509.0,399.9 L509.5,392.8 L510.0,396.5 L510.5,398.4 L511.0,392.6 L511.5,394.7 L512.0,396.7 L512.5,397.8 L513.0,394.6 L513.5,400.6 L514.0,403.4 L514.5,401.9 L515.0,399.6 L515.5,401.9 L516.0,399.1 L516.5,403.2 L517.0,404.9 L517.5,405.4 L518.0,412.7 L518.5,405.7 L519.0,407.6 L519.5,405.0 L520.0,404.3 L520.5,405.9 L521.0,408.3 L521.5,410.1 L522.0,410.7 L522.5,409.7 L523.0,409.9 L523.5,412.0 L524.0,419.2 L524.5,418.6 L525.0,418.8 L525.5,422.7 L526.0,425.8 L526.5,426.6 L527.0,426.6 L527.5,426.7 L528.0,428.7 L528.5,432.5 L529.0,428.6 L529.3,430.4 L529.5,429.4 L530.0,427.1 L530.5,424.8 L531.0,423.7 L531.5,424.2 L532.0,419.0 L532.5,414.7 L533.0,418.6 L533.5,414.3 L534.0,413.2 L534.5,409.4 L535.0,405.9 L535.5,408.4 L536.0,410.5 L536.5,412.3 L537.0,415.1 L537.5,416.0 L538.0,417.8 L538.5,403.4 L539.0,402.3 L539.5,409.5 L540.0,417.1 L540.5,406.7 L541.0,408.0 L541.5,417.8 L542.0,413.1 L542.5,409.5 L543.0,405.4 L543.5,410.1 L544.0,408.8 L544.5,402.1 L545.0,409.9 L545.5,410.5 L546.0,409.8 L546.5,412.5 L547.0,410.3 L547.5,408.2 L548.0,414.3 L548.5,409.2 L549.0,412.7 L549.5,414.8 L550.0,412.1 L550.5,415.3 L551.0,409.7 L551.5,420.5 L552.0,412.6 L552.5,408.2 L553.0,415.6 L553.5,416.2 L554.0,424.3 L554.5,418.9 L555.0,427.4 L555.5,423.5 L556.0,423.8 L556.5,430.9 L557.0,440.1 L557.5,434.5 L558.0,438.8 L558.5,442.8 L558.6,443.6 L559.0,441.2 L559.5,438.3 L560.0,437.2 L560.5,426.2 L561.0,433.3 L561.5,430.8 L562.0,436.1 L562.5,446.0 L563.0,440.3 L563.5,434.3 L564.0,440.5 L564.5,444.4 L565.0,448.2 L565.4,451.1 L565.5,450.4 L566.0,447.0 L566.5,443.5 L567.0,440.0 L567.5,419.7 L568.0,411.0 L568.5,419.4 L569.0,426.9 L569.5,433.2 L570.0,434.8 L570.5,418.9 L571.0,415.0 L571.5,415.9 L572.0,432.1 L572.5,435.5 L573.0,436.0 L573.5,434.1 L574.0,435.9 L574.5,437.5 L575.0,425.1 L575.5,427.4 L576.0,433.5 L576.5,423.6 L577.0,423.3 L577.5,419.4 L578.0,423.5 L578.5,433.4 L579.0,431.8 L579.5,432.4 L580.0,432.6 L580.5,431.9 L581.0,431.4 L581.5,433.6 L582.0,430.6 L582.5,433.3 L583.0,439.4 L583.5,446.6 L584.0,427.9 L584.5,429.1 L585.0,427.0 L585.5,432.6 L586.0,426.7 L586.5,435.0 L587.0,429.1 L587.5,423.7 L588.0,410.0 L588.5,419.9 L589.0,415.4 L589.5,411.5 L590.0,427.9 L590.5,421.8 L591.0,429.5 L591.5,427.6 L592.0,431.7 L592.5,437.6 L593.0,432.1 L593.5,432.9 L594.0,425.0 L594.5,426.8 L595.0,423.2 L595.5,426.9 L596.0,414.7 L596.5,414.6 L597.0,416.8 L597.5,417.4 L598.0,416.6 L598.5,417.5 L599.0,417.8 L599.5,409.9 L600.0,410.1 L600.5,407.9 L601.0,415.3 L601.5,411.6 L602.0,405.3 L602.5,407.6 L603.0,405.7 L603.5,399.9 L604.0,400.7 L604.5,395.9 L605.0,399.5 L605.5,395.8 L606.0,401.8 L606.5,401.1 L607.0,392.8 L607.5,389.2 L608.0,388.8 L608.5,384.5 L609.0,380.9 L609.5,380.9 L610.0,384.7 L610.5,386.0 L611.0,383.9 L611.5,388.0 L612.0,394.9 L612.5,396.7 L613.0,395.2 L613.5,396.9 L614.0,390.3 L614.5,389.1 L615.0,390.3 L615.5,396.1 L616.0,394.9 L616.5,399.2 L617.0,399.5 L617.5,397.9 L618.0,396.6 L618.5,399.0 L619.0,391.0 L619.5,393.9 L620.0,378.4 L620.5,388.7 L621.0,394.9 L621.5,391.5 L622.0,399.6 L622.5,398.4 L623.0,400.7 L623.5,401.1 L624.0,401.0 L624.5,394.6 L625.0,390.7 L625.5,399.0 L626.0,399.4 L626.5,409.1 L627.0,409.6 L627.5,407.4 L628.0,406.8 L628.5,412.6 L629.0,405.0 L629.5,394.4 L630.0,391.8 L630.5,400.0 L631.0,396.7 L631.5,397.3 L632.0,385.6 L632.5,389.9 L633.0,394.7 L633.5,396.7 L634.0,400.3 L634.5,391.5 L635.0,389.8 L635.5,381.7 L636.0,380.6 L636.5,385.3 L637.0,378.3 L637.5,371.0 L638.0,363.7 L638.5,356.4 L639.0,349.2 L639.5,341.9 L639.6,340.5 L640.0,346.2 L640.5,353.3 L641.0,360.9 L641.5,368.8 L642.0,376.8 L642.5,385.0 L643.0,394.7 L643.5,396.0 L644.0,392.1 L644.5,391.3 L645.0,393.2 L645.5,401.2 L646.0,396.3 L646.5,399.0 L647.0,401.7 L647.5,400.1 L648.0,399.4 L648.5,403.2 L649.0,412.4 L649.5,413.7 L650.0,409.7 L650.5,413.4 L651.0,409.7 L651.5,408.9 L652.0,420.3 L652.5,417.9 L653.0,422.8 L653.3,424.5 L653.5,422.9 L654.0,423.6 L654.5,417.4 L655.0,416.4 L655.5,416.0 L656.0,414.2 L656.5,409.7 L657.0,396.6 L657.5,392.3 L658.0,398.7 L658.5,396.4 L659.0,398.1 L659.5,399.0 L660.0,389.6 L660.5,396.1 L661.0,395.9 L661.5,391.4 L662.0,387.3 L662.5,380.3 L663.0,380.2 L663.5,377.8 L664.0,373.9 L664.5,369.1 L665.0,374.5 L665.5,378.8 L666.0,382.4 L666.5,369.7 L667.0,368.2 L667.5,365.1 L668.0,365.5 L668.5,357.1 L669.0,354.7 L669.5,364.7 L670.0,358.3 L670.5,350.0 L671.0,348.3 L671.5,340.7 L672.0,333.2 L672.5,340.1 L673.0,346.7 L673.5,353.1 L674.0,349.8 L674.5,352.9 L675.0,356.1 L675.5,365.2 L676.0,360.2 L676.5,356.8 L677.0,354.3 L677.5,367.0 L678.0,355.9 L678.5,345.0 L679.0,340.0 L679.5,350.8 L680.0,350.9 L680.5,338.8 L681.0,341.7 L681.5,343.5 L682.0,353.1 L682.5,354.7 L683.0,337.8 L683.5,343.6 L684.0,342.6 L684.5,350.0 L685.0,353.4 L685.5,336.2 L686.0,339.7 L686.5,339.6 L687.0,339.3 L687.5,352.5 L688.0,359.1 L688.5,352.2 L689.0,348.4 L689.5,344.1 L690.0,339.3 L690.5,345.7 L691.0,352.6 L691.5,355.5 L692.0,354.6 L692.5,353.6 L693.0,360.7 L693.5,354.6 L694.0,355.2 L694.5,367.0 L695.0,372.7 L695.5,372.9 L696.0,361.6 L696.5,365.8 L697.0,370.6 L697.5,362.8 L698.0,373.4 L698.5,381.7 L699.0,377.7 L699.5,378.2 L700.0,401.1 L700.5,396.4 L701.0,398.3 L701.5,384.1 L702.0,390.1 L702.5,397.7 L703.0,393.7 L703.5,398.7 L704.0,401.2 L704.5,384.6 L705.0,395.1 L705.5,385.4 L706.0,385.3 L706.5,378.7 L707.0,386.1 L707.5,386.6 L708.0,391.1 L708.5,382.5 L709.0,384.1 L709.5,389.7 L710.0,387.1 L710.5,386.4 L711.0,376.5 L711.5,373.8 L712.0,367.0 L712.5,373.9 L713.0,380.6 L713.5,384.8 L714.0,387.6 L714.5,401.4 L715.0,388.6 L715.5,380.4 L716.0,386.7 L716.5,386.6 L717.0,390.0 L717.5,398.8 L718.0,389.7 L718.5,403.2 L719.0,398.0 L719.5,410.3 L720.0,395.7 L720.5,386.5 L721.0,378.6 L721.5,389.7 L722.0,397.1 L722.5,390.3 L723.0,396.4 L723.5,406.1 L724.0,395.8 L724.5,390.1 L725.0,394.1 L725.5,391.2 L726.0,400.3 L726.5,411.1 L727.0,413.7 L727.5,411.8 L728.0,416.7 L728.5,411.9 L729.0,407.0 L729.5,406.0 L730.0,412.1 L730.5,405.3 L731.0,422.1 L731.5,408.8 L732.0,395.0 L732.5,397.4 L733.0,400.2 L733.5,391.4 L734.0,388.7 L734.5,392.6 L735.0,388.9 L735.5,385.4 L736.0,395.3 L736.5,398.1 L737.0,390.8 L737.5,391.0 L738.0,398.1 L738.5,387.2 L739.0,378.3 L739.5,369.6 L740.0,361.1 L740.5,352.7 L741.0,360.7 L741.5,368.6 L742.0,376.4 L742.5,381.3 L743.0,395.6 L743.5,385.3 L744.0,379.4 L744.5,373.6 L745.0,367.9 L745.5,362.2 L745.6,361.1 L746.0,365.4 L746.5,370.7 L747.0,376.0 L747.5,381.1 L748.0,383.1 L748.5,377.0 L749.0,387.3 L749.5,392.5 L750.0,390.1 L750.5,382.5 L751.0,381.3 L751.5,380.0 L752.0,382.2 L752.5,382.8 L753.0,382.0 L753.5,374.4 L754.0,376.2 L754.5,379.9 L755.0,377.7 L755.5,381.3 L756.0,391.0 L756.5,390.8 L757.0,392.4 L757.5,389.6 L758.0,396.9 L758.5,386.1 L759.0,384.2 L759.5,394.2 L760.0,392.4 L760.5,384.4 L761.0,392.5 L761.5,383.0 L762.0,382.3 L762.5,380.9 L763.0,388.2 L763.5,387.8 L764.0,382.4 L764.5,383.1 L765.0,399.1 L765.5,395.2 L766.0,395.9 L766.5,376.4 L767.0,383.8 L767.5,381.5 L768.0,385.1 L768.5,392.8 L769.0,394.1 L769.5,388.6 L770.0,393.5 L770.5,385.7 L771.0,386.0 L771.5,388.8 L772.0,396.9 L772.5,390.8 L773.0,397.3 L773.5,392.1 L774.0,394.4 L774.5,388.8 L775.0,399.5 L775.5,394.4 L776.0,393.8 L776.5,392.5 L777.0,391.7 L777.5,397.0 L778.0,390.2 L778.5,384.1 L779.0,386.4 L779.5,390.2 L780.0,406.7 L780.5,404.6 L781.0,412.5 L781.5,403.6 L782.0,404.8 L782.5,403.5 L783.0,403.3 L783.5,409.2 L784.0,405.3 L784.5,401.6 L785.0,393.7 L785.5,393.9 L786.0,399.7 L786.5,400.7 L787.0,400.1 L787.5,393.7 L788.0,395.5 L788.5,392.4 L789.0,392.5 L789.5,387.0 L790.0,387.1 L790.5,388.8 L791.0,380.6 L791.5,362.8 L792.0,345.1 L792.1,341.5 L792.5,355.5 L793.0,373.0 L793.5,390.3 L794.0,400.9 L794.5,391.6 L795.0,383.5 L795.5,375.5 L795.8,370.8 L796.0,373.7 L796.5,380.9 L797.0,387.9 L797.5,391.6 L798.0,391.8 L798.5,390.2 L799.0,390.2 L799.5,389.5 L800.0,393.0 L800.5,383.2 L801.0,380.5 L801.5,375.5 L801.6,374.5 L802.0,378.1 L802.5,382.5 L803.0,382.2 L803.5,380.9 L804.0,386.3 L804.5,388.6 L805.0,392.3 L805.5,389.0 L806.0,389.1 L806.5,392.9 L807.0,396.4 L807.5,388.4 L808.0,384.2 L808.5,382.6 L809.0,379.7 L809.5,382.2 L810.0,385.6 L810.5,385.2 L811.0,393.0 L811.5,388.6 L812.0,385.3 L812.5,386.8 L813.0,389.6 L813.5,389.6 L814.0,389.4 L814.5,389.2 L815.0,388.1 L815.5,390.9 L816.0,389.9 L816.5,387.5 L817.0,383.7 L817.5,383.9 L818.0,381.9 L818.5,376.7 L819.0,384.4 L819.5,397.4 L820.0,390.4 L820.5,391.6 L821.0,391.8 L821.5,382.2 L822.0,389.9 L822.5,392.8 L823.0,386.2 L823.5,384.0 L824.0,390.8 L824.5,395.4 L825.0,391.7 L825.5,392.9 L826.0,388.7 L826.5,392.3 L827.0,387.1 L827.5,391.5 L828.0,385.2 L828.5,381.2 L829.0,370.9 L829.5,360.7 L829.8,354.6 L830.0,358.6 L830.5,368.7 L831.0,378.7 L831.5,386.7 L832.0,386.4 L832.5,380.5 L833.0,389.8 L833.5,391.9 L834.0,388.1 L834.5,395.0 L835.0,393.1 L835.5,386.7 L836.0,383.0 L836.5,378.9 L836.7,377.2 L837.0,380.2 L837.5,385.4 L838.0,390.8 L838.5,389.3 L839.0,389.7 L839.5,392.6 L840.0,387.1 L840.5,395.2 L841.0,393.8 L841.5,391.4 L842.0,401.6 L842.5,406.1 L843.0,403.6 L843.5,400.3 L844.0,400.8 L844.5,401.8 L845.0,408.8 L845.5,408.1 L846.0,411.6 L846.4,414.3 L846.5,413.6 L847.0,410.1 L847.5,406.5 L848.0,402.9 L848.5,407.0 L849.0,398.9 L849.5,403.1 L850.0,399.8 L850.5,393.3 L851.0,386.7 L851.5,380.2 L852.0,373.7 L852.4,368.5 L852.5,369.8 L853.0,376.2 L853.5,382.6 L854.0,382.4 L854.5,376.4 L855.0,370.4 L855.5,376.4 L856.0,382.4 L856.5,388.4 L857.0,394.3 L857.5,405.2 L858.0,408.9 L858.5,400.1 L859.0,404.3 L859.5,400.6 L860.0,403.5 L860.5,401.8 L861.0,405.3 L861.5,412.5 L862.0,409.5 L862.5,398.0 L863.0,404.6 L863.5,406.6 L864.0,396.2 L864.5,389.9 L865.0,383.5 L865.2,380.9 L865.5,384.9 L866.0,391.6 L866.5,398.4 L867.0,408.9 L867.5,391.5 L868.0,380.3 L868.5,369.1 L868.6,366.9 L869.0,376.0 L869.5,387.6 L870.0,396.8 L870.5,397.2 L871.0,395.7 L871.5,400.7 L872.0,398.4 L872.5,393.3 L873.0,388.0 L873.5,393.6 L874.0,399.4 L874.5,405.2 L875.0,405.9 L875.5,402.3 L876.0,398.5 L876.5,394.7 L877.0,398.9 L877.5,403.3 L878.0,407.8 L878.5,401.6 L879.0,405.8 L879.5,403.5 L880.0,408.6 L880.5,408.3 L881.0,409.4 L881.5,410.8 L882.0,409.6 L882.5,410.0 L883.0,414.1 L883.5,416.4 L884.0,415.6 L884.5,412.8 L885.0,412.5 L885.5,423.2 L886.0,417.1 L886.5,423.7 L887.0,421.8 L887.3,422.8 L887.5,421.7 L888.0,419.0 L888.5,416.3 L889.0,420.4 L889.5,426.0 L890.0,420.7 L890.5,410.4 L891.0,399.7 L891.5,407.5 L892.0,404.8 L892.5,404.3 L893.0,409.3 L893.5,402.4 L894.0,410.4 L894.5,419.1 L895.0,415.8 L895.5,417.3 L896.0,410.6 L896.5,407.4 L897.0,409.9 L897.5,420.4 L898.0,428.9 L898.5,421.9 L899.0,424.0 L899.5,421.3 L900.0,422.3 L900.5,421.4 L901.0,418.7 L901.5,423.4 L902.0,429.9 L902.5,431.7 L903.0,429.9 L903.5,429.1 L904.0,420.2 L904.5,416.3 L905.0,422.8 L905.5,422.0 L906.0,427.3 L906.5,423.7 L907.0,418.1 L907.5,424.4 L908.0,425.2 L908.5,421.1 L909.0,428.6 L909.5,420.6 L910.0,419.5 L910.5,427.8 L911.0,430.8 L911.5,433.2 L912.0,435.5 L912.1,436.0 L912.5,433.5 L913.0,430.1 L913.5,426.7 L914.0,427.1 L914.5,424.9 L915.0,428.9 L915.5,431.3" fill="none" stroke="#f59252" stroke-width="1.7" stroke-linejoin="round"/>
<path d="M108.5,267.1 L109.0,265.6 L109.5,265.5 L110.0,266.6 L110.5,261.2 L111.0,261.6 L111.5,262.5 L112.0,264.6 L112.5,264.3 L113.0,262.7 L113.2,264.1 L113.5,267.7 L114.0,265.8 L114.5,268.7 L115.0,269.8 L115.5,270.1 L116.0,271.3 L116.5,274.7 L117.0,271.6 L117.5,278.4 L118.0,282.2 L118.5,286.3 L119.0,290.0 L119.5,288.2 L120.0,295.9 L120.5,299.5 L121.0,300.6 L121.5,300.6 L122.0,301.7 L122.5,301.4 L123.0,305.9 L123.5,308.4 L124.0,311.3 L124.5,314.9 L125.0,316.2 L125.5,319.7 L126.0,322.3 L126.5,325.8 L127.0,328.2 L127.5,329.7 L128.0,329.2 L128.5,334.3 L129.0,335.8 L129.5,332.6 L130.0,336.9 L130.5,337.5 L131.0,337.4 L131.5,337.8 L132.0,340.4 L132.5,338.9 L133.0,342.1 L133.5,340.3 L134.0,345.6 L134.5,348.8 L135.0,349.0 L135.5,350.6 L136.0,350.4 L136.5,347.3 L137.0,347.6 L137.5,347.8 L138.0,348.2 L138.5,347.9 L139.0,348.0 L139.5,345.3 L140.0,343.6 L140.5,339.5 L141.0,338.2 L141.5,340.3 L142.0,338.2 L142.5,336.0 L143.0,336.9 L143.5,331.9 L144.0,330.9 L144.5,333.5 L145.0,334.5 L145.5,336.1 L146.0,330.0 L146.5,331.3 L147.0,332.3 L147.5,330.9 L148.0,326.6 L148.5,322.1 L149.0,314.6 L149.5,315.9 L150.0,317.1 L150.5,318.6 L151.0,314.5 L151.5,311.8 L152.0,308.5 L152.5,303.4 L153.0,299.4 L153.5,295.1 L154.0,292.6 L154.5,288.6 L155.0,285.5 L155.5,285.1 L156.0,272.1 L156.5,260.7 L157.0,249.5 L157.5,238.7 L157.8,232.3 L158.0,235.3 L158.5,246.0 L159.0,256.9 L159.5,268.0 L160.0,275.3 L160.5,272.2 L161.0,268.6 L161.2,266.6 L161.5,270.3 L162.0,276.6 L162.5,283.0 L163.0,286.5 L163.5,283.5 L164.0,285.8 L164.5,285.3 L165.0,287.2 L165.5,285.9 L165.7,285.4 L166.0,286.5 L166.5,288.0 L167.0,290.5 L167.5,285.5 L168.0,289.1 L168.5,290.2 L169.0,289.9 L169.5,292.5 L170.0,291.9 L170.5,293.7 L171.0,294.0 L171.5,289.9 L172.0,287.4 L172.4,284.7 L172.5,285.5 L173.0,289.8 L173.5,294.2 L174.0,295.0 L174.5,292.7 L174.9,290.9 L175.0,291.5 L175.5,294.7 L176.0,298.0 L176.5,301.4 L177.0,308.4 L177.5,302.8 L178.0,302.5 L178.5,300.2 L179.0,301.7 L179.5,306.8 L180.0,305.1 L180.5,307.1 L181.0,307.4 L181.5,308.1 L182.0,309.3 L182.5,307.5 L183.0,310.0 L183.5,311.1 L184.0,311.2 L184.5,313.3 L185.0,312.0 L185.5,313.3 L186.0,313.7 L186.5,310.3 L187.0,313.2 L187.5,313.2 L188.0,315.4 L188.5,319.8 L189.0,318.3 L189.5,315.8 L190.0,314.1 L190.5,313.8 L191.0,309.1 L191.5,306.5 L192.0,305.2 L192.5,299.4 L193.0,301.7 L193.5,297.0 L194.0,297.1 L194.5,301.0 L195.0,299.4 L195.5,293.4 L196.0,299.9 L196.5,298.5 L197.0,288.9 L197.5,295.2 L198.0,292.5 L198.5,293.0 L199.0,292.9 L199.5,296.3 L200.0,295.9 L200.5,296.9 L201.0,297.6 L201.5,296.1 L202.0,290.3 L202.5,290.6 L203.0,293.3 L203.5,291.6 L204.0,294.7 L204.5,295.1 L205.0,293.6 L205.5,289.9 L206.0,293.2 L206.5,296.8 L207.0,296.1 L207.5,290.8 L208.0,293.6 L208.5,296.1 L209.0,291.1 L209.5,290.9 L210.0,291.2 L210.5,296.7 L211.0,300.6 L211.5,295.9 L212.0,296.8 L212.5,297.4 L213.0,296.9 L213.5,295.5 L214.0,296.2 L214.5,299.2 L215.0,302.1 L215.5,301.1 L216.0,301.9 L216.5,301.6 L217.0,300.4 L217.2,301.3 L217.5,299.3 L218.0,296.6 L218.5,295.5 L218.9,293.9 L219.0,294.3 L219.5,296.3 L220.0,298.4 L220.5,299.6 L221.0,294.6 L221.5,294.9 L222.0,296.2 L222.5,296.9 L223.0,300.8 L223.5,303.0 L224.0,303.3 L224.5,303.1 L225.0,301.3 L225.5,299.8 L226.0,301.8 L226.5,301.9 L227.0,297.8 L227.5,299.3 L228.0,301.3 L228.5,300.6 L229.0,300.8 L229.5,300.6 L230.0,296.9 L230.5,299.0 L231.0,295.0 L231.5,296.3 L232.0,297.2 L232.5,300.6 L233.0,301.4 L233.5,297.5 L234.0,301.4 L234.5,300.0 L235.0,305.5 L235.5,303.0 L236.0,306.2 L236.5,304.7 L237.0,299.8 L237.5,302.2 L238.0,302.2 L238.5,305.1 L239.0,305.9 L239.5,309.5 L240.0,307.2 L240.5,309.0 L241.0,306.0 L241.5,307.3 L242.0,306.0 L242.5,311.9 L243.0,311.6 L243.5,310.7 L244.0,312.8 L244.5,309.9 L245.0,310.9 L245.5,310.2 L246.0,307.3 L246.5,308.6 L247.0,304.7 L247.5,305.6 L248.0,310.1 L248.5,309.5 L249.0,304.2 L249.5,305.1 L250.0,304.5 L250.5,307.5 L251.0,309.9 L251.5,313.0 L252.0,312.4 L252.5,312.7 L253.0,309.1 L253.5,311.2 L254.0,307.1 L254.5,306.3 L255.0,308.9 L255.5,307.2 L256.0,309.9 L256.5,313.1 L257.0,316.5 L257.5,315.2 L258.0,315.8 L258.5,318.8 L259.0,317.5 L259.5,317.7 L260.0,318.3 L260.5,321.2 L261.0,326.2 L261.5,321.8 L262.0,323.9 L262.5,322.1 L263.0,322.2 L263.5,324.9 L264.0,328.3 L264.5,327.2 L265.0,329.4 L265.5,326.5 L266.0,325.5 L266.5,327.2 L267.0,325.7 L267.5,331.3 L268.0,334.5 L268.5,339.0 L269.0,338.4 L269.5,341.9 L270.0,341.9 L270.5,339.6 L271.0,343.5 L271.5,342.7 L272.0,344.7 L272.5,342.0 L273.0,342.2 L273.5,345.8 L274.0,345.8 L274.5,345.9 L275.0,350.7 L275.5,351.4 L276.0,355.1 L276.5,356.1 L276.8,354.7 L277.0,356.6 L277.5,357.0 L278.0,355.4 L278.5,351.2 L279.0,348.7 L279.5,346.2 L280.0,343.8 L280.5,345.8 L281.0,347.8 L281.5,349.1 L282.0,349.7 L282.5,349.4 L283.0,351.5 L283.5,354.1 L284.0,355.6 L284.5,353.6 L285.0,352.4 L285.5,353.8 L286.0,353.8 L286.5,359.3 L287.0,356.8 L287.5,355.4 L288.0,352.9 L288.5,355.0 L289.0,356.5 L289.5,358.2 L290.0,359.3 L290.5,360.0 L291.0,356.7 L291.5,358.2 L292.0,359.9 L292.5,365.9 L293.0,363.8 L293.5,366.6 L294.0,363.9 L294.5,364.2 L295.0,361.0 L295.5,360.8 L296.0,362.5 L296.5,359.0 L297.0,357.8 L297.5,359.0 L298.0,356.3 L298.5,355.9 L299.0,356.2 L299.5,356.7 L300.0,353.0 L300.5,352.0 L301.0,357.0 L301.5,353.7 L302.0,355.9 L302.5,355.6 L303.0,353.7 L303.5,356.5 L304.0,358.1 L304.5,358.8 L305.0,355.8 L305.5,352.8 L306.0,349.6 L306.5,353.4 L307.0,357.2 L307.5,361.1 L308.0,366.5 L308.5,365.1 L309.0,365.5 L309.5,367.0 L310.0,368.1 L310.5,365.6 L311.0,361.0 L311.5,361.7 L312.0,364.8 L312.5,362.0 L313.0,363.2 L313.5,359.8 L314.0,358.1 L314.5,358.1 L315.0,362.2 L315.5,367.6 L316.0,365.4 L316.5,369.9 L317.0,371.3 L317.5,367.9 L318.0,368.6 L318.5,371.9 L319.0,372.5 L319.5,371.4 L320.0,369.6 L320.5,369.9 L321.0,368.4 L321.5,367.2 L322.0,363.8 L322.5,368.3 L323.0,368.0 L323.5,368.9 L324.0,373.7 L324.5,368.5 L325.0,370.0 L325.5,371.2 L326.0,368.5 L326.5,366.3 L327.0,368.7 L327.5,368.1 L328.0,370.6 L328.5,371.1 L329.0,370.9 L329.5,372.2 L330.0,368.4 L330.5,372.5 L331.0,372.6 L331.5,370.3 L332.0,365.4 L332.5,366.5 L333.0,362.3 L333.5,364.9 L334.0,353.3 L334.5,341.8 L335.0,330.8 L335.3,324.7 L335.5,328.4 L336.0,337.6 L336.5,347.0 L337.0,351.8 L337.5,356.6 L338.0,356.5 L338.5,357.6 L339.0,354.2 L339.5,352.7 L340.0,352.2 L340.5,352.9 L341.0,351.8 L341.5,353.0 L342.0,352.5 L342.5,354.3 L343.0,355.7 L343.5,354.8 L344.0,352.1 L344.5,350.0 L345.0,352.9 L345.5,348.8 L346.0,346.2 L346.5,343.0 L347.0,343.5 L347.5,344.0 L348.0,345.7 L348.5,339.5 L349.0,337.8 L349.5,336.8 L350.0,340.3 L350.5,335.7 L351.0,335.3 L351.5,323.1 L352.0,309.8 L352.5,297.6 L353.0,310.7 L353.5,323.8 L354.0,335.7 L354.5,337.5 L355.0,342.1 L355.5,341.4 L356.0,341.6 L356.5,344.4 L357.0,345.5 L357.5,343.6 L358.0,344.7 L358.5,346.4 L359.0,344.0 L359.5,341.4 L360.0,338.9 L360.5,336.3 L361.0,338.8 L361.5,341.3 L362.0,343.8 L362.5,343.5 L363.0,340.1 L363.5,338.3 L364.0,340.5 L364.5,341.9 L365.0,338.5 L365.5,341.5 L366.0,344.4 L366.5,340.2 L367.0,343.6 L367.5,343.5 L368.0,340.5 L368.5,344.3 L369.0,343.0 L369.5,340.5 L370.0,337.9 L370.3,336.3 L370.5,337.4 L371.0,340.1 L371.5,342.8 L372.0,342.8 L372.5,340.1 L373.0,337.4 L373.2,336.3 L373.5,338.0 L374.0,340.8 L374.5,342.8 L375.0,347.0 L375.5,344.0 L376.0,344.7 L376.5,343.6 L377.0,345.3 L377.5,346.3 L378.0,343.5 L378.5,342.5 L379.0,345.4 L379.5,344.7 L380.0,346.8 L380.5,347.8 L381.0,345.5 L381.5,344.3 L382.0,345.5 L382.5,344.6 L383.0,346.1 L383.5,347.7 L384.0,347.3 L384.5,348.0 L385.0,349.3 L385.5,349.4 L386.0,351.9 L386.5,349.5 L387.0,348.0 L387.5,352.2 L388.0,350.9 L388.5,348.6 L389.0,350.1 L389.5,349.1 L390.0,353.1 L390.5,351.0 L391.0,354.5 L391.5,354.6 L392.0,353.7 L392.5,355.0 L393.0,351.2 L393.5,352.4 L394.0,350.1 L394.5,349.0 L395.0,349.0 L395.5,346.6 L396.0,349.9 L396.5,350.1 L397.0,348.2 L397.5,346.3 L397.7,345.6 L398.0,347.0 L398.5,349.5 L399.0,352.1 L399.5,349.1 L400.0,350.7 L400.5,348.7 L401.0,348.0 L401.5,344.6 L401.6,343.9 L402.0,347.5 L402.5,352.0 L403.0,356.7 L403.5,360.8 L404.0,360.0 L404.5,362.7 L405.0,361.3 L405.5,360.5 L406.0,362.8 L406.5,364.0 L407.0,364.6 L407.5,365.9 L408.0,365.8 L408.5,365.8 L409.0,367.0 L409.5,365.9 L410.0,365.6 L410.5,367.7 L411.0,371.4 L411.5,374.3 L412.0,374.1 L412.5,375.1 L413.0,374.5 L413.5,370.6 L414.0,371.7 L414.5,372.0 L415.0,374.9 L415.5,375.4 L416.0,371.7 L416.5,376.6 L417.0,378.5 L417.5,377.0 L418.0,376.0 L418.5,378.5 L419.0,373.4 L419.5,374.2 L420.0,378.2 L420.5,375.4 L421.0,375.2 L421.5,376.1 L422.0,376.0 L422.5,375.1 L423.0,376.2 L423.5,373.4 L424.0,374.5 L424.5,371.5 L425.0,371.5 L425.5,359.0 L426.0,343.3 L426.5,327.8 L427.0,312.4 L427.5,327.7 L428.0,343.2 L428.5,358.8 L429.0,369.5 L429.5,365.9 L430.0,362.3 L430.5,365.1 L431.0,370.9 L431.5,369.0 L432.0,365.8 L432.5,362.5 L432.8,360.5 L433.0,362.2 L433.5,366.5 L434.0,370.9 L434.5,372.2 L435.0,371.9 L435.5,374.6 L436.0,375.3 L436.5,376.8 L437.0,377.2 L437.5,378.9 L438.0,376.9 L438.5,380.1 L439.0,379.2 L439.5,376.0 L440.0,378.2 L440.5,377.0 L441.0,375.0 L441.5,375.7 L442.0,382.8 L442.5,382.8 L443.0,381.5 L443.5,379.8 L444.0,381.4 L444.5,379.8 L445.0,380.4 L445.5,383.1 L446.0,382.8 L446.5,382.2 L447.0,379.9 L447.5,377.4 L448.0,373.0 L448.5,371.9 L449.0,378.0 L449.5,378.5 L450.0,377.8 L450.5,380.1 L451.0,382.9 L451.5,382.6 L452.0,382.3 L452.5,383.3 L453.0,382.7 L453.5,382.8 L454.0,382.7 L454.5,380.5 L455.0,377.1 L455.5,380.6 L456.0,384.3 L456.5,385.9 L457.0,387.0 L457.5,387.0 L458.0,388.6 L458.5,389.0 L459.0,384.2 L459.5,379.1 L460.0,374.0 L460.2,372.0 L460.5,374.8 L461.0,379.5 L461.5,384.0 L462.0,395.7 L462.5,395.1 L463.0,386.7 L463.5,386.0 L464.0,383.5 L464.5,387.6 L465.0,384.3 L465.5,383.7 L466.0,382.8 L466.5,383.4 L467.0,387.1 L467.5,385.2 L468.0,383.6 L468.5,383.8 L469.0,387.6 L469.5,387.6 L470.0,388.8 L470.5,388.7 L471.0,392.3 L471.5,390.3 L472.0,388.5 L472.5,387.0 L473.0,385.2 L473.5,382.4 L474.0,386.1 L474.5,385.9 L475.0,381.9 L475.5,383.8 L476.0,380.5 L476.5,379.8 L477.0,386.5 L477.5,383.0 L478.0,386.0 L478.5,382.5 L479.0,380.7 L479.5,384.3 L480.0,384.0 L480.5,384.4 L481.0,382.9 L481.5,386.0 L482.0,380.0 L482.5,383.3 L483.0,383.7 L483.5,380.0 L484.0,384.7 L484.5,383.2 L485.0,379.7 L485.5,380.8 L486.0,382.6 L486.5,379.0 L487.0,377.6 L487.5,379.6 L488.0,376.5 L488.5,371.9 L489.0,367.4 L489.5,363.0 L490.0,366.7 L490.5,370.4 L491.0,371.8 L491.5,367.6 L492.0,362.9 L492.4,359.1 L492.5,360.1 L493.0,365.5 L493.5,370.8 L494.0,373.3 L494.5,372.4 L495.0,375.8 L495.5,375.8 L496.0,377.1 L496.5,379.4 L497.0,379.2 L497.5,376.5 L498.0,378.7 L498.5,380.1 L499.0,379.1 L499.5,380.7 L500.0,380.5 L500.5,384.9 L501.0,385.9 L501.5,382.0 L502.0,380.7 L502.5,379.3 L502.7,378.7 L503.0,380.2 L503.5,382.9 L504.0,385.7 L504.5,387.1 L505.0,389.0 L505.5,388.2 L506.0,387.7 L506.5,382.8 L507.0,388.0 L507.5,390.5 L508.0,389.8 L508.5,387.1 L509.0,391.0 L509.5,391.1 L510.0,390.2 L510.5,395.9 L511.0,394.7 L511.5,398.7 L512.0,399.0 L512.5,400.9 L513.0,398.3 L513.5,395.9 L514.0,397.9 L514.5,399.1 L515.0,403.0 L515.5,399.1 L516.0,398.0 L516.5,399.9 L517.0,399.5 L517.5,400.7 L518.0,400.4 L518.5,400.7 L519.0,404.5 L519.5,403.7 L520.0,402.4 L520.5,400.3 L521.0,404.3 L521.5,401.7 L522.0,400.4 L522.5,401.2 L523.0,406.4 L523.5,407.2 L524.0,412.3 L524.5,410.7 L525.0,406.7 L525.5,404.4 L526.0,407.7 L526.5,407.7 L527.0,407.1 L527.5,407.9 L528.0,408.5 L528.5,410.2 L529.0,416.1 L529.3,415.8 L529.5,412.0 L530.0,410.0 L530.5,412.6 L531.0,416.4 L531.5,415.7 L532.0,412.2 L532.5,413.2 L533.0,410.8 L533.5,408.0 L534.0,408.8 L534.5,407.0 L535.0,405.4 L535.5,405.4 L536.0,405.3 L536.5,404.9 L537.0,406.2 L537.5,406.0 L538.0,407.3 L538.5,405.6 L539.0,405.3 L539.5,402.9 L540.0,406.5 L540.5,401.7 L541.0,399.2 L541.5,401.0 L542.0,403.5 L542.5,405.0 L543.0,401.9 L543.5,401.4 L544.0,405.5 L544.5,405.5 L545.0,402.3 L545.5,401.5 L546.0,402.7 L546.5,401.6 L547.0,401.8 L547.5,404.1 L548.0,404.2 L548.5,406.3 L549.0,407.6 L549.5,406.4 L550.0,410.9 L550.5,408.9 L551.0,406.6 L551.5,409.8 L552.0,407.0 L552.5,410.1 L553.0,408.5 L553.5,409.0 L554.0,409.0 L554.5,410.7 L555.0,414.1 L555.5,414.9 L556.0,417.4 L556.5,413.5 L557.0,413.0 L557.5,411.5 L558.0,417.5 L558.5,419.7 L558.6,421.5 L559.0,416.1 L559.5,417.8 L560.0,420.0 L560.5,422.3 L561.0,424.2 L561.5,423.1 L562.0,428.0 L562.5,424.9 L563.0,426.1 L563.5,424.0 L564.0,425.2 L564.5,426.3 L565.0,427.2 L565.4,428.9 L565.5,429.9 L566.0,432.9 L566.5,428.1 L567.0,425.0 L567.5,421.7 L568.0,418.4 L568.5,421.8 L569.0,424.0 L569.5,425.9 L570.0,423.5 L570.5,425.9 L571.0,421.6 L571.5,421.3 L572.0,421.4 L572.5,414.6 L573.0,413.9 L573.5,415.7 L574.0,416.7 L574.5,417.1 L575.0,418.0 L575.5,417.8 L576.0,416.2 L576.5,417.3 L577.0,414.2 L577.5,414.2 L578.0,411.7 L578.5,410.9 L579.0,412.1 L579.5,415.4 L580.0,412.5 L580.5,412.7 L581.0,418.4 L581.5,415.3 L582.0,415.0 L582.5,413.8 L583.0,415.9 L583.5,411.6 L584.0,410.7 L584.5,409.2 L585.0,409.9 L585.5,410.3 L586.0,411.2 L586.5,412.2 L587.0,413.2 L587.5,412.3 L588.0,411.4 L588.5,411.9 L589.0,409.7 L589.5,412.9 L590.0,409.3 L590.5,410.6 L591.0,413.9 L591.5,415.3 L592.0,416.5 L592.5,415.4 L593.0,409.1 L593.5,413.7 L594.0,411.0 L594.5,408.1 L595.0,413.5 L595.5,416.4 L596.0,415.5 L596.5,418.3 L597.0,418.2 L597.5,417.6 L598.0,417.6 L598.5,410.2 L599.0,409.1 L599.5,406.1 L600.0,402.1 L600.5,400.8 L601.0,400.5 L601.5,401.4 L602.0,399.4 L602.5,394.1 L603.0,391.3 L603.5,386.3 L604.0,385.9 L604.5,382.5 L605.0,383.0 L605.5,379.6 L606.0,379.7 L606.5,381.6 L607.0,382.7 L607.5,385.1 L608.0,381.0 L608.5,381.3 L609.0,379.5 L609.5,379.5 L610.0,380.3 L610.5,380.2 L611.0,380.6 L611.5,379.4 L612.0,377.0 L612.5,377.7 L613.0,380.4 L613.5,381.7 L614.0,380.9 L614.5,384.5 L615.0,383.5 L615.5,381.0 L616.0,379.2 L616.5,378.9 L617.0,379.7 L617.5,380.7 L618.0,381.7 L618.5,383.5 L619.0,381.7 L619.5,383.7 L620.0,384.3 L620.5,384.1 L621.0,385.2 L621.5,387.9 L622.0,387.9 L622.5,387.6 L623.0,386.2 L623.5,390.6 L624.0,389.0 L624.5,389.9 L625.0,391.7 L625.5,389.9 L626.0,390.9 L626.5,391.7 L627.0,391.9 L627.5,388.6 L628.0,386.4 L628.5,387.2 L629.0,387.5 L629.5,389.8 L630.0,390.6 L630.5,385.8 L631.0,383.1 L631.5,383.5 L632.0,384.1 L632.5,383.8 L633.0,381.0 L633.5,383.7 L634.0,384.7 L634.5,382.6 L635.0,382.6 L635.5,380.6 L636.0,376.1 L636.5,371.7 L637.0,375.6 L637.5,372.1 L638.0,368.5 L638.5,365.0 L639.0,361.6 L639.5,358.1 L639.6,357.4 L640.0,359.8 L640.5,362.7 L641.0,366.6 L641.5,370.7 L642.0,374.9 L642.5,377.5 L643.0,376.3 L643.5,383.0 L644.0,385.2 L644.5,387.1 L645.0,386.6 L645.5,387.3 L646.0,390.8 L646.5,388.5 L647.0,389.3 L647.5,387.7 L648.0,389.5 L648.5,393.8 L649.0,395.0 L649.5,396.5 L650.0,396.9 L650.5,396.6 L651.0,397.8 L651.5,400.9 L652.0,402.4 L652.5,401.0 L653.0,401.7 L653.3,403.3 L653.5,403.8 L654.0,403.5 L654.5,402.7 L655.0,402.1 L655.5,400.0 L656.0,400.7 L656.5,399.1 L657.0,394.3 L657.5,392.6 L658.0,390.8 L658.5,392.7 L659.0,393.1 L659.5,388.7 L660.0,388.0 L660.5,383.6 L661.0,379.6 L661.5,376.1 L662.0,378.1 L662.5,381.1 L663.0,374.4 L663.5,365.4 L664.0,363.6 L664.5,362.0 L665.0,359.1 L665.5,357.2 L666.0,353.0 L666.5,352.6 L667.0,348.2 L667.5,350.2 L668.0,348.3 L668.5,346.6 L669.0,341.2 L669.5,341.0 L670.0,345.9 L670.5,342.9 L671.0,341.2 L671.5,338.3 L672.0,335.5 L672.5,337.3 L673.0,339.1 L673.5,340.7 L674.0,338.8 L674.5,334.0 L675.0,339.0 L675.5,338.6 L676.0,338.1 L676.5,336.1 L677.0,339.9 L677.5,338.7 L678.0,337.7 L678.5,334.5 L679.0,337.3 L679.5,337.4 L680.0,333.7 L680.5,334.9 L681.0,338.5 L681.5,334.6 L682.0,335.3 L682.5,336.6 L683.0,338.8 L683.5,341.6 L684.0,341.9 L684.5,341.6 L685.0,342.5 L685.5,342.9 L686.0,341.3 L686.5,340.8 L687.0,341.0 L687.5,337.9 L688.0,338.3 L688.5,339.8 L689.0,339.8 L689.5,338.7 L690.0,338.6 L690.5,341.8 L691.0,344.7 L691.5,347.9 L692.0,354.0 L692.5,352.3 L693.0,355.2 L693.5,357.0 L694.0,356.7 L694.5,360.9 L695.0,362.9 L695.5,364.0 L696.0,362.0 L696.5,367.1 L697.0,364.0 L697.5,364.6 L698.0,368.6 L698.5,368.6 L699.0,375.2 L699.5,381.9 L700.0,383.6 L700.5,379.7 L701.0,381.3 L701.5,378.6 L702.0,376.1 L702.5,377.2 L703.0,374.3 L703.5,376.0 L704.0,371.8 L704.5,373.3 L705.0,375.2 L705.5,371.8 L706.0,368.5 L706.5,368.2 L707.0,372.2 L707.5,371.9 L708.0,370.2 L708.5,368.8 L709.0,370.0 L709.5,372.3 L710.0,371.1 L710.5,373.8 L711.0,372.6 L711.5,370.9 L712.0,369.3 L712.5,375.1 L713.0,374.4 L713.5,375.0 L714.0,374.0 L714.5,375.6 L715.0,375.8 L715.5,372.9 L716.0,375.9 L716.5,379.0 L717.0,377.6 L717.5,377.0 L718.0,376.9 L718.5,375.8 L719.0,373.9 L719.5,377.0 L720.0,380.8 L720.5,381.4 L721.0,382.9 L721.5,381.1 L722.0,379.5 L722.5,379.8 L723.0,380.8 L723.5,379.3 L724.0,384.7 L724.5,381.6 L725.0,387.9 L725.5,386.4 L726.0,385.5 L726.5,380.6 L727.0,382.3 L727.5,383.3 L728.0,386.8 L728.5,386.4 L729.0,389.0 L729.5,387.4 L730.0,385.8 L730.5,388.0 L731.0,389.4 L731.5,387.7 L732.0,384.0 L732.5,385.6 L733.0,382.8 L733.5,381.7 L734.0,382.2 L734.5,380.6 L735.0,382.6 L735.5,380.7 L736.0,381.7 L736.5,382.2 L737.0,383.2 L737.5,381.6 L738.0,382.7 L738.5,378.9 L739.0,375.8 L739.5,372.8 L740.0,369.9 L740.5,367.0 L741.0,369.3 L741.5,371.5 L742.0,373.7 L742.5,375.8 L743.0,379.1 L743.5,375.7 L744.0,373.4 L744.5,371.1 L745.0,368.8 L745.5,366.6 L745.6,366.1 L746.0,367.7 L746.5,369.5 L747.0,371.4 L747.5,372.3 L748.0,371.8 L748.5,372.6 L749.0,372.9 L749.5,370.8 L750.0,370.8 L750.5,371.8 L751.0,371.3 L751.5,371.7 L752.0,371.8 L752.5,369.8 L753.0,371.2 L753.5,368.3 L754.0,373.0 L754.5,376.4 L755.0,379.5 L755.5,375.1 L756.0,375.5 L756.5,370.4 L757.0,373.3 L757.5,374.5 L758.0,370.5 L758.5,373.5 L759.0,375.6 L759.5,374.1 L760.0,375.4 L760.5,378.8 L761.0,376.6 L761.5,376.5 L762.0,379.1 L762.5,378.3 L763.0,381.8 L763.5,378.5 L764.0,380.9 L764.5,380.7 L765.0,383.3 L765.5,385.7 L766.0,383.4 L766.5,385.5 L767.0,383.9 L767.5,378.2 L768.0,378.0 L768.5,381.6 L769.0,381.5 L769.5,383.3 L770.0,380.2 L770.5,381.0 L771.0,386.1 L771.5,383.1 L772.0,382.8 L772.5,383.0 L773.0,385.6 L773.5,386.0 L774.0,386.3 L774.5,387.0 L775.0,386.7 L775.5,384.0 L776.0,387.6 L776.5,386.1 L777.0,386.2 L777.5,386.7 L778.0,384.4 L778.5,384.9 L779.0,384.4 L779.5,385.0 L780.0,385.8 L780.5,385.0 L781.0,383.9 L781.5,387.2 L782.0,386.6 L782.5,387.7 L783.0,387.2 L783.5,392.6 L784.0,390.9 L784.5,388.2 L785.0,391.2 L785.5,389.3 L786.0,386.8 L786.5,391.3 L787.0,388.3 L787.5,388.1 L788.0,389.2 L788.5,390.5 L789.0,388.2 L789.5,387.6 L790.0,391.8 L790.5,391.9 L791.0,381.3 L791.5,373.1 L792.0,364.9 L792.1,363.3 L792.5,369.4 L793.0,377.1 L793.5,384.7 L794.0,387.0 L794.5,385.2 L795.0,381.8 L795.5,378.4 L795.8,376.5 L796.0,377.5 L796.5,380.1 L797.0,382.5 L797.5,386.5 L798.0,386.1 L798.5,384.9 L799.0,386.7 L799.5,385.3 L800.0,380.4 L800.5,380.6 L801.0,378.7 L801.5,376.8 L801.6,376.5 L802.0,377.6 L802.5,379.0 L803.0,379.7 L803.5,379.9 L804.0,378.0 L804.5,375.4 L805.0,374.5 L805.5,379.3 L806.0,377.8 L806.5,377.3 L807.0,380.2 L807.5,380.8 L808.0,380.6 L808.5,379.4 L809.0,378.7 L809.5,380.8 L810.0,380.4 L810.5,380.8 L811.0,379.4 L811.5,381.5 L812.0,381.6 L812.5,379.2 L813.0,381.8 L813.5,381.7 L814.0,380.8 L814.5,379.3 L815.0,380.2 L815.5,378.1 L816.0,375.3 L816.5,373.5 L817.0,375.2 L817.5,375.2 L818.0,378.2 L818.5,379.8 L819.0,380.6 L819.5,379.0 L820.0,382.6 L820.5,380.7 L821.0,381.7 L821.5,379.3 L822.0,380.6 L822.5,376.9 L823.0,376.9 L823.5,374.0 L824.0,374.5 L824.5,375.2 L825.0,375.0 L825.5,374.7 L826.0,373.7 L826.5,371.5 L827.0,375.3 L827.5,377.4 L828.0,382.0 L828.5,375.8 L829.0,371.5 L829.5,367.3 L829.8,364.7 L830.0,366.5 L830.5,370.7 L831.0,375.0 L831.5,377.0 L832.0,380.2 L832.5,383.2 L833.0,379.8 L833.5,379.2 L834.0,381.3 L834.5,379.0 L835.0,381.3 L835.5,381.2 L836.0,379.7 L836.5,379.4 L836.7,378.9 L837.0,380.1 L837.5,382.2 L838.0,384.4 L838.5,389.3 L839.0,386.6 L839.5,387.2 L840.0,388.2 L840.5,382.9 L841.0,385.1 L841.5,386.1 L842.0,387.5 L842.5,385.5 L843.0,382.5 L843.5,383.3 L844.0,382.0 L844.5,386.7 L845.0,390.7 L845.5,389.2 L846.0,390.5 L846.4,388.7 L846.5,384.3 L847.0,386.3 L847.5,384.8 L848.0,390.5 L848.5,393.1 L849.0,391.6 L849.5,394.5 L850.0,387.8 L850.5,387.4 L851.0,384.8 L851.5,382.2 L852.0,379.6 L852.4,377.5 L852.5,378.0 L853.0,380.6 L853.5,383.2 L854.0,383.3 L854.5,381.0 L855.0,378.6 L855.5,381.1 L856.0,383.6 L856.5,386.1 L857.0,387.1 L857.5,390.0 L858.0,392.1 L858.5,392.6 L859.0,393.4 L859.5,396.5 L860.0,393.8 L860.5,394.7 L861.0,395.1 L861.5,394.1 L862.0,394.2 L862.5,394.5 L863.0,395.7 L863.5,397.3 L864.0,390.7 L864.5,388.4 L865.0,386.1 L865.2,385.2 L865.5,386.8 L866.0,389.4 L866.5,392.0 L867.0,395.5 L867.5,389.0 L868.0,384.4 L868.5,379.7 L868.6,378.7 L869.0,382.7 L869.5,387.7 L870.0,392.7 L870.5,399.1 L871.0,398.0 L871.5,394.9 L872.0,393.5 L872.5,392.0 L873.0,390.4 L873.5,392.6 L874.0,394.8 L874.5,397.1 L875.0,395.5 L875.5,394.0 L876.0,395.5 L876.5,395.0 L877.0,396.5 L877.5,398.1 L878.0,399.7 L878.5,405.0 L879.0,403.3 L879.5,402.3 L880.0,400.3 L880.5,399.9 L881.0,399.5 L881.5,404.2 L882.0,405.0 L882.5,403.5 L883.0,405.2 L883.5,401.5 L884.0,404.7 L884.5,406.8 L885.0,404.8 L885.5,403.6 L886.0,403.8 L886.5,405.7 L887.0,405.3 L887.3,405.8 L887.5,406.5 L888.0,408.0 L888.5,410.5 L889.0,408.2 L889.5,406.0 L890.0,406.0 L890.5,403.5 L891.0,403.6 L891.5,403.2 L892.0,402.7 L892.5,403.5 L893.0,404.4 L893.5,405.3 L894.0,410.8 L894.5,407.7 L895.0,403.9 L895.5,405.1 L896.0,409.3 L896.5,410.3 L897.0,410.3 L897.5,410.2 L898.0,407.8 L898.5,408.4 L899.0,408.9 L899.5,407.3 L900.0,408.0 L900.5,409.3 L901.0,408.4 L901.5,412.7 L902.0,415.4 L902.5,411.4 L903.0,412.3 L903.5,411.8 L904.0,414.4 L904.5,412.5 L905.0,413.4 L905.5,415.2 L906.0,414.2 L906.5,411.3 L907.0,416.1 L907.5,418.2 L908.0,417.7 L908.5,414.1 L909.0,415.4 L909.5,414.2 L910.0,415.5 L910.5,418.2 L911.0,419.7 L911.5,419.9 L912.0,418.3 L912.1,414.9 L912.5,417.1 L913.0,419.5 L913.5,419.8 L914.0,416.6 L914.5,418.0 L915.0,420.7 L915.5,418.5" fill="none" stroke="#f3d04a" stroke-width="1.7" stroke-linejoin="round"/>
<path d="M108.5,283.7 L109.0,282.4 L109.5,284.1 L110.0,281.5 L110.5,279.8 L111.0,281.3 L111.5,282.1 L112.0,282.8 L112.5,282.0 L113.0,281.3 L113.2,280.5 L113.5,281.0 L114.0,281.1 L114.5,279.3 L115.0,281.9 L115.5,282.4 L116.0,280.5 L116.5,278.7 L117.0,277.0 L117.5,277.0 L118.0,278.6 L118.5,279.9 L119.0,281.2 L119.5,281.8 L120.0,279.3 L120.5,284.2 L121.0,285.6 L121.5,287.1 L122.0,288.2 L122.5,293.4 L123.0,294.6 L123.5,297.6 L124.0,299.7 L124.5,303.6 L125.0,305.4 L125.5,307.8 L126.0,309.3 L126.5,312.1 L127.0,318.7 L127.5,320.3 L128.0,323.9 L128.5,325.2 L129.0,324.8 L129.5,326.8 L130.0,327.1 L130.5,328.5 L131.0,330.1 L131.5,331.2 L132.0,331.3 L132.5,332.3 L133.0,334.1 L133.5,333.9 L134.0,333.0 L134.5,331.4 L135.0,333.9 L135.5,335.5 L136.0,333.8 L136.5,335.5 L137.0,332.1 L137.5,332.3 L138.0,332.2 L138.5,331.3 L139.0,328.8 L139.5,329.6 L140.0,332.4 L140.5,331.4 L141.0,328.8 L141.5,329.2 L142.0,327.3 L142.5,326.4 L143.0,325.2 L143.5,324.8 L144.0,322.2 L144.5,324.3 L145.0,325.9 L145.5,326.0 L146.0,327.1 L146.5,323.7 L147.0,323.3 L147.5,320.4 L148.0,315.9 L148.5,312.3 L149.0,310.9 L149.5,310.4 L150.0,304.3 L150.5,303.7 L151.0,301.0 L151.5,300.3 L152.0,298.2 L152.5,292.4 L153.0,288.8 L153.5,286.1 L154.0,282.2 L154.5,278.3 L155.0,275.6 L155.5,274.1 L156.0,268.8 L156.5,263.1 L157.0,257.5 L157.5,252.0 L157.8,248.8 L158.0,249.4 L158.5,255.4 L159.0,261.6 L159.5,267.9 L160.0,272.8 L160.5,273.6 L161.0,274.2 L161.2,273.5 L161.5,275.1 L162.0,277.8 L162.5,280.6 L163.0,284.9 L163.5,284.3 L164.0,282.0 L164.5,281.0 L165.0,283.0 L165.5,284.0 L165.7,284.0 L166.0,284.4 L166.5,285.1 L167.0,285.9 L167.5,286.7 L168.0,285.0 L168.5,285.7 L169.0,286.5 L169.5,288.1 L170.0,287.8 L170.5,287.7 L171.0,288.4 L171.5,287.6 L172.0,286.7 L172.4,286.0 L172.5,286.3 L173.0,288.0 L173.5,289.7 L174.0,290.4 L174.5,290.0 L174.9,289.6 L175.0,289.9 L175.5,291.1 L176.0,292.4 L176.5,293.7 L177.0,292.6 L177.5,291.7 L178.0,293.2 L178.5,294.5 L179.0,296.1 L179.5,296.0 L180.0,296.2 L180.5,297.5 L181.0,297.3 L181.5,297.5 L182.0,298.3 L182.5,296.8 L183.0,297.3 L183.5,300.1 L184.0,299.2 L184.5,300.6 L185.0,304.2 L185.5,306.1 L186.0,305.5 L186.5,306.5 L187.0,306.8 L187.5,308.5 L188.0,306.3 L188.5,305.3 L189.0,304.7 L189.5,303.6 L190.0,301.3 L190.5,299.8 L191.0,300.0 L191.5,300.5 L192.0,296.4 L192.5,294.0 L193.0,292.9 L193.5,293.1 L194.0,293.2 L194.5,292.2 L195.0,289.8 L195.5,287.2 L196.0,287.6 L196.5,287.8 L197.0,285.7 L197.5,285.7 L198.0,284.0 L198.5,283.9 L199.0,284.4 L199.5,282.5 L200.0,284.2 L200.5,284.2 L201.0,281.7 L201.5,282.6 L202.0,282.6 L202.5,284.3 L203.0,283.1 L203.5,284.4 L204.0,283.7 L204.5,282.3 L205.0,282.9 L205.5,283.4 L206.0,282.5 L206.5,283.2 L207.0,284.5 L207.5,286.7 L208.0,286.4 L208.5,285.2 L209.0,284.3 L209.5,284.5 L210.0,283.9 L210.5,285.3 L211.0,281.4 L211.5,283.0 L212.0,281.0 L212.5,283.2 L213.0,285.3 L213.5,285.8 L214.0,285.8 L214.5,285.5 L215.0,285.1 L215.5,286.1 L216.0,285.3 L216.5,285.7 L217.0,285.1 L217.2,284.2 L217.5,284.0 L218.0,285.0 L218.5,284.9 L218.9,284.2 L219.0,284.1 L219.5,283.1 L220.0,283.4 L220.5,281.7 L221.0,284.9 L221.5,289.0 L222.0,289.4 L222.5,288.9 L223.0,286.3 L223.5,287.1 L224.0,288.1 L224.5,289.7 L225.0,289.5 L225.5,288.3 L226.0,286.8 L226.5,289.4 L227.0,289.4 L227.5,288.8 L228.0,290.2 L228.5,289.6 L229.0,289.3 L229.5,290.2 L230.0,290.0 L230.5,286.9 L231.0,289.1 L231.5,289.8 L232.0,290.6 L232.5,291.1 L233.0,292.1 L233.5,291.1 L234.0,293.0 L234.5,294.4 L235.0,297.5 L235.5,296.6 L236.0,294.6 L236.5,295.0 L237.0,293.0 L237.5,294.4 L238.0,294.5 L238.5,296.3 L239.0,298.3 L239.5,298.7 L240.0,297.8 L240.5,298.6 L241.0,300.4 L241.5,301.8 L242.0,299.9 L242.5,299.7 L243.0,298.8 L243.5,300.6 L244.0,300.7 L244.5,300.5 L245.0,302.8 L245.5,304.0 L246.0,302.2 L246.5,301.2 L247.0,299.8 L247.5,298.5 L248.0,298.9 L248.5,299.6 L249.0,299.9 L249.5,301.1 L250.0,299.7 L250.5,297.9 L251.0,297.4 L251.5,299.5 L252.0,300.7 L252.5,300.9 L253.0,300.8 L253.5,303.1 L254.0,304.1 L254.5,306.4 L255.0,305.4 L255.5,303.0 L256.0,303.8 L256.5,303.2 L257.0,303.2 L257.5,305.9 L258.0,307.7 L258.5,306.7 L259.0,308.0 L259.5,309.7 L260.0,311.8 L260.5,312.5 L261.0,312.5 L261.5,312.6 L262.0,315.5 L262.5,314.8 L263.0,316.0 L263.5,317.0 L264.0,315.7 L264.5,315.6 L265.0,317.5 L265.5,318.8 L266.0,321.4 L266.5,324.0 L267.0,324.7 L267.5,326.4 L268.0,327.5 L268.5,331.8 L269.0,334.6 L269.5,335.1 L270.0,335.1 L270.5,335.3 L271.0,337.7 L271.5,339.6 L272.0,339.2 L272.5,339.7 L273.0,338.9 L273.5,340.5 L274.0,339.9 L274.5,339.3 L275.0,340.8 L275.5,337.5 L276.0,340.4 L276.5,342.4 L276.8,340.4 L277.0,338.4 L277.5,338.4 L278.0,340.0 L278.5,342.6 L279.0,342.4 L279.5,342.1 L280.0,341.7 L280.5,342.6 L281.0,343.6 L281.5,344.5 L282.0,345.4 L282.5,346.4 L283.0,345.8 L283.5,346.2 L284.0,345.2 L284.5,348.7 L285.0,350.6 L285.5,350.0 L286.0,349.3 L286.5,349.9 L287.0,352.2 L287.5,350.0 L288.0,351.3 L288.5,349.6 L289.0,349.9 L289.5,350.8 L290.0,350.1 L290.5,353.8 L291.0,352.3 L291.5,353.3 L292.0,355.2 L292.5,352.8 L293.0,353.6 L293.5,352.4 L294.0,351.0 L294.5,350.9 L295.0,353.0 L295.5,350.2 L296.0,351.4 L296.5,351.3 L297.0,353.9 L297.5,355.1 L298.0,353.8 L298.5,352.9 L299.0,353.4 L299.5,353.9 L300.0,354.3 L300.5,354.9 L301.0,353.7 L301.5,351.4 L302.0,352.3 L302.5,353.4 L303.0,350.0 L303.5,350.7 L304.0,351.9 L304.5,353.0 L305.0,352.3 L305.5,351.6 L306.0,350.8 L306.5,352.4 L307.0,353.9 L307.5,355.5 L308.0,356.1 L308.5,355.9 L309.0,354.5 L309.5,354.4 L310.0,353.9 L310.5,354.5 L311.0,355.2 L311.5,358.9 L312.0,356.3 L312.5,355.1 L313.0,357.7 L313.5,359.4 L314.0,360.5 L314.5,361.6 L315.0,360.7 L315.5,361.2 L316.0,359.4 L316.5,359.9 L317.0,362.4 L317.5,359.6 L318.0,358.7 L318.5,360.8 L319.0,360.0 L319.5,362.2 L320.0,362.5 L320.5,362.4 L321.0,363.6 L321.5,363.7 L322.0,365.0 L322.5,364.7 L323.0,361.9 L323.5,363.1 L324.0,366.0 L324.5,363.3 L325.0,363.1 L325.5,363.9 L326.0,366.7 L326.5,366.6 L327.0,366.8 L327.5,365.9 L328.0,366.8 L328.5,365.8 L329.0,365.9 L329.5,369.1 L330.0,370.0 L330.5,371.2 L331.0,368.5 L331.5,366.4 L332.0,363.1 L332.5,360.3 L333.0,358.3 L333.5,354.2 L334.0,350.2 L334.5,344.1 L335.0,338.2 L335.3,335.3 L335.5,336.8 L336.0,340.5 L336.5,344.3 L337.0,348.7 L337.5,349.6 L338.0,349.8 L338.5,349.5 L339.0,350.3 L339.5,350.1 L340.0,350.8 L340.5,349.4 L341.0,349.2 L341.5,347.5 L342.0,348.2 L342.5,348.3 L343.0,345.6 L343.5,347.0 L344.0,343.4 L344.5,343.5 L345.0,342.2 L345.5,340.9 L346.0,338.6 L346.5,339.8 L347.0,337.2 L347.5,336.2 L348.0,336.9 L348.5,337.4 L349.0,336.8 L349.5,335.4 L350.0,330.7 L350.5,331.9 L351.0,330.7 L351.5,325.1 L352.0,319.5 L352.5,315.4 L353.0,320.9 L353.5,326.5 L354.0,330.5 L354.5,330.9 L355.0,332.2 L355.5,335.4 L356.0,335.4 L356.5,336.1 L357.0,338.5 L357.5,337.2 L358.0,336.8 L358.5,338.1 L359.0,337.7 L359.5,339.1 L360.0,338.3 L360.5,337.5 L361.0,338.4 L361.5,339.3 L362.0,340.1 L362.5,339.3 L363.0,339.6 L363.5,340.4 L364.0,340.6 L364.5,337.3 L365.0,339.2 L365.5,338.4 L366.0,338.1 L366.5,339.8 L367.0,340.6 L367.5,340.3 L368.0,341.9 L368.5,339.0 L369.0,338.4 L369.5,335.0 L370.0,336.9 L370.3,336.7 L370.5,338.5 L371.0,337.8 L371.5,337.5 L372.0,336.7 L372.5,339.6 L373.0,338.7 L373.2,338.3 L373.5,338.9 L374.0,339.9 L374.5,340.4 L375.0,340.2 L375.5,341.7 L376.0,340.0 L376.5,336.4 L377.0,339.1 L377.5,340.8 L378.0,339.5 L378.5,340.6 L379.0,341.6 L379.5,340.7 L380.0,343.9 L380.5,341.6 L381.0,344.3 L381.5,344.1 L382.0,340.4 L382.5,341.2 L383.0,339.7 L383.5,340.5 L384.0,341.1 L384.5,341.6 L385.0,341.9 L385.5,342.6 L386.0,344.3 L386.5,344.5 L387.0,344.7 L387.5,342.2 L388.0,342.2 L388.5,342.9 L389.0,343.0 L389.5,344.2 L390.0,344.2 L390.5,343.6 L391.0,345.4 L391.5,346.7 L392.0,346.1 L392.5,347.4 L393.0,348.7 L393.5,348.3 L394.0,346.8 L394.5,346.3 L395.0,345.8 L395.5,345.9 L396.0,346.7 L396.5,346.2 L397.0,345.7 L397.5,345.2 L397.7,345.0 L398.0,345.7 L398.5,346.8 L399.0,348.0 L399.5,349.8 L400.0,351.3 L400.5,348.6 L401.0,347.8 L401.5,346.9 L401.6,346.8 L402.0,348.2 L402.5,350.1 L403.0,352.0 L403.5,353.9 L404.0,355.2 L404.5,356.2 L405.0,353.8 L405.5,353.5 L406.0,355.6 L406.5,357.1 L407.0,356.7 L407.5,356.8 L408.0,359.7 L408.5,361.2 L409.0,359.8 L409.5,361.6 L410.0,360.7 L410.5,363.0 L411.0,363.1 L411.5,363.7 L412.0,362.7 L412.5,361.6 L413.0,362.2 L413.5,363.5 L414.0,362.1 L414.5,362.5 L415.0,360.1 L415.5,361.3 L416.0,364.3 L416.5,364.5 L417.0,364.4 L417.5,365.9 L418.0,365.3 L418.5,365.5 L419.0,368.7 L419.5,368.7 L420.0,368.2 L420.5,366.5 L421.0,366.6 L421.5,367.2 L422.0,364.1 L422.5,363.8 L423.0,364.7 L423.5,361.9 L424.0,361.1 L424.5,359.5 L425.0,356.2 L425.5,354.4 L426.0,347.8 L426.5,341.3 L427.0,334.8 L427.5,341.0 L428.0,347.1 L428.5,353.3 L429.0,359.5 L429.5,358.1 L430.0,358.3 L430.5,358.4 L431.0,361.5 L431.5,359.5 L432.0,359.0 L432.5,358.4 L432.8,358.1 L433.0,358.7 L433.5,360.3 L434.0,362.0 L434.5,362.7 L435.0,364.3 L435.5,365.8 L436.0,365.6 L436.5,364.3 L437.0,366.9 L437.5,362.9 L438.0,363.7 L438.5,364.6 L439.0,365.6 L439.5,367.4 L440.0,366.3 L440.5,368.2 L441.0,367.4 L441.5,365.7 L442.0,364.3 L442.5,365.3 L443.0,368.4 L443.5,366.7 L444.0,366.3 L444.5,367.6 L445.0,368.0 L445.5,366.1 L446.0,367.8 L446.5,367.4 L447.0,366.9 L447.5,364.9 L448.0,365.4 L448.5,367.0 L449.0,367.7 L449.5,368.2 L450.0,367.0 L450.5,368.4 L451.0,367.1 L451.5,367.0 L452.0,367.6 L452.5,367.5 L453.0,368.3 L453.5,367.4 L454.0,367.9 L454.5,368.9 L455.0,370.8 L455.5,368.7 L456.0,368.9 L456.5,372.1 L457.0,374.1 L457.5,374.1 L458.0,375.7 L458.5,376.6 L459.0,375.9 L459.5,374.9 L460.0,373.9 L460.2,373.5 L460.5,374.5 L461.0,376.1 L461.5,377.7 L462.0,376.8 L462.5,378.8 L463.0,378.6 L463.5,375.6 L464.0,375.4 L464.5,377.0 L465.0,377.8 L465.5,377.6 L466.0,380.4 L466.5,379.8 L467.0,377.2 L467.5,377.5 L468.0,377.1 L468.5,376.4 L469.0,375.4 L469.5,376.8 L470.0,377.9 L470.5,376.4 L471.0,377.0 L471.5,376.5 L472.0,377.8 L472.5,376.9 L473.0,374.8 L473.5,376.6 L474.0,373.1 L474.5,373.4 L475.0,371.8 L475.5,372.4 L476.0,374.7 L476.5,374.3 L477.0,373.0 L477.5,374.4 L478.0,374.5 L478.5,373.9 L479.0,373.3 L479.5,373.7 L480.0,371.5 L480.5,372.3 L481.0,371.0 L481.5,372.8 L482.0,374.0 L482.5,371.6 L483.0,372.4 L483.5,372.7 L484.0,368.9 L484.5,367.7 L485.0,368.6 L485.5,368.9 L486.0,370.3 L486.5,370.3 L487.0,370.7 L487.5,371.0 L488.0,370.3 L488.5,368.7 L489.0,367.1 L489.5,365.5 L490.0,366.7 L490.5,368.0 L491.0,368.7 L491.5,366.9 L492.0,365.8 L492.4,364.9 L492.5,365.4 L493.0,368.0 L493.5,370.6 L494.0,374.0 L494.5,374.1 L495.0,373.3 L495.5,374.9 L496.0,379.0 L496.5,377.2 L497.0,375.2 L497.5,376.9 L498.0,376.6 L498.5,374.8 L499.0,375.5 L499.5,376.7 L500.0,375.4 L500.5,375.7 L501.0,373.6 L501.5,376.9 L502.0,377.2 L502.5,377.2 L502.7,377.2 L503.0,377.8 L503.5,379.0 L504.0,379.3 L504.5,380.1 L505.0,383.5 L505.5,382.4 L506.0,383.9 L506.5,385.2 L507.0,383.7 L507.5,385.6 L508.0,385.5 L508.5,389.8 L509.0,388.5 L509.5,388.7 L510.0,387.3 L510.5,387.6 L511.0,388.7 L511.5,387.5 L512.0,388.0 L512.5,390.1 L513.0,390.0 L513.5,389.5 L514.0,392.0 L514.5,391.5 L515.0,393.5 L515.5,394.5 L516.0,394.7 L516.5,395.5 L517.0,393.9 L517.5,394.5 L518.0,392.1 L518.5,391.3 L519.0,393.6 L519.5,396.1 L520.0,396.9 L520.5,395.3 L521.0,396.4 L521.5,395.7 L522.0,397.5 L522.5,399.4 L523.0,399.5 L523.5,399.4 L524.0,398.4 L524.5,398.2 L525.0,400.0 L525.5,402.5 L526.0,402.6 L526.5,403.4 L527.0,405.9 L527.5,404.7 L528.0,406.2 L528.5,407.3 L529.0,407.5 L529.3,406.8 L529.5,406.5 L530.0,408.1 L530.5,408.4 L531.0,408.4 L531.5,410.2 L532.0,409.4 L532.5,407.4 L533.0,405.5 L533.5,404.3 L534.0,403.9 L534.5,402.8 L535.0,401.7 L535.5,400.3 L536.0,399.8 L536.5,398.8 L537.0,395.6 L537.5,396.7 L538.0,393.4 L538.5,394.8 L539.0,392.4 L539.5,391.0 L540.0,389.8 L540.5,390.8 L541.0,393.7 L541.5,393.6 L542.0,395.0 L542.5,393.1 L543.0,393.8 L543.5,396.0 L544.0,393.1 L544.5,393.7 L545.0,394.6 L545.5,395.4 L546.0,395.2 L546.5,398.6 L547.0,398.3 L547.5,398.6 L548.0,399.3 L548.5,396.5 L549.0,397.2 L549.5,396.4 L550.0,396.0 L550.5,397.3 L551.0,399.7 L551.5,400.6 L552.0,401.5 L552.5,403.1 L553.0,402.1 L553.5,405.1 L554.0,405.6 L554.5,404.2 L555.0,406.0 L555.5,404.1 L556.0,404.3 L556.5,406.8 L557.0,408.0 L557.5,408.9 L558.0,411.2 L558.5,411.5 L558.6,411.3 L559.0,410.2 L559.5,411.4 L560.0,414.4 L560.5,415.9 L561.0,418.2 L561.5,416.7 L562.0,417.4 L562.5,418.2 L563.0,419.7 L563.5,417.8 L564.0,416.6 L564.5,420.2 L565.0,420.6 L565.4,418.6 L565.5,418.7 L566.0,420.4 L566.5,420.6 L567.0,419.9 L567.5,419.4 L568.0,418.8 L568.5,420.0 L569.0,419.6 L569.5,419.2 L570.0,419.4 L570.5,418.6 L571.0,418.2 L571.5,415.8 L572.0,413.6 L572.5,411.1 L573.0,410.5 L573.5,410.3 L574.0,409.7 L574.5,409.0 L575.0,409.9 L575.5,407.4 L576.0,408.6 L576.5,408.8 L577.0,406.8 L577.5,406.7 L578.0,405.6 L578.5,405.3 L579.0,405.1 L579.5,405.3 L580.0,403.8 L580.5,406.4 L581.0,405.8 L581.5,406.7 L582.0,405.6 L582.5,406.7 L583.0,405.9 L583.5,406.8 L584.0,402.7 L584.5,400.4 L585.0,399.8 L585.5,400.3 L586.0,399.8 L586.5,400.2 L587.0,400.7 L587.5,401.9 L588.0,402.4 L588.5,402.8 L589.0,402.6 L589.5,401.7 L590.0,402.5 L590.5,403.3 L591.0,401.6 L591.5,401.2 L592.0,402.4 L592.5,405.7 L593.0,408.1 L593.5,407.6 L594.0,409.6 L594.5,409.1 L595.0,410.5 L595.5,408.4 L596.0,406.6 L596.5,405.0 L597.0,407.4 L597.5,409.2 L598.0,408.2 L598.5,405.2 L599.0,404.4 L599.5,402.7 L600.0,397.1 L600.5,394.6 L601.0,393.0 L601.5,389.5 L602.0,386.2 L602.5,383.5 L603.0,382.3 L603.5,382.2 L604.0,380.9 L604.5,377.8 L605.0,376.6 L605.5,374.0 L606.0,375.3 L606.5,371.9 L607.0,372.1 L607.5,372.4 L608.0,372.7 L608.5,371.9 L609.0,372.7 L609.5,373.0 L610.0,371.2 L610.5,371.5 L611.0,372.8 L611.5,374.9 L612.0,374.6 L612.5,374.9 L613.0,374.9 L613.5,375.7 L614.0,375.4 L614.5,375.8 L615.0,377.1 L615.5,375.6 L616.0,375.6 L616.5,374.2 L617.0,377.0 L617.5,377.4 L618.0,377.6 L618.5,376.6 L619.0,374.2 L619.5,378.6 L620.0,375.1 L620.5,375.6 L621.0,378.0 L621.5,377.6 L622.0,379.3 L622.5,380.9 L623.0,378.3 L623.5,381.1 L624.0,378.8 L624.5,379.3 L625.0,377.4 L625.5,379.6 L626.0,382.7 L626.5,381.7 L627.0,380.1 L627.5,379.7 L628.0,379.5 L628.5,381.3 L629.0,380.7 L629.5,380.7 L630.0,382.3 L630.5,380.0 L631.0,378.6 L631.5,380.7 L632.0,380.4 L632.5,380.0 L633.0,377.6 L633.5,377.3 L634.0,375.6 L634.5,377.1 L635.0,375.4 L635.5,374.7 L636.0,374.6 L636.5,373.2 L637.0,372.2 L637.5,370.5 L638.0,368.8 L638.5,367.2 L639.0,365.6 L639.5,364.0 L639.6,363.7 L640.0,364.2 L640.5,364.9 L641.0,366.9 L641.5,369.2 L642.0,371.6 L642.5,374.0 L643.0,376.8 L643.5,378.5 L644.0,379.3 L644.5,380.8 L645.0,381.0 L645.5,380.2 L646.0,382.5 L646.5,382.0 L647.0,383.8 L647.5,386.3 L648.0,388.2 L648.5,391.1 L649.0,390.0 L649.5,389.3 L650.0,388.6 L650.5,389.6 L651.0,389.3 L651.5,389.5 L652.0,389.4 L652.5,389.9 L653.0,390.8 L653.3,392.3 L653.5,394.2 L654.0,394.7 L654.5,395.0 L655.0,394.7 L655.5,394.5 L656.0,393.1 L656.5,393.1 L657.0,393.4 L657.5,389.9 L658.0,387.9 L658.5,388.0 L659.0,385.4 L659.5,384.0 L660.0,381.3 L660.5,380.6 L661.0,376.2 L661.5,376.5 L662.0,373.7 L662.5,371.5 L663.0,370.1 L663.5,367.7 L664.0,364.1 L664.5,360.6 L665.0,357.5 L665.5,354.4 L666.0,350.0 L666.5,346.7 L667.0,345.9 L667.5,344.2 L668.0,342.7 L668.5,340.7 L669.0,339.8 L669.5,338.7 L670.0,335.1 L670.5,332.3 L671.0,330.2 L671.5,330.1 L672.0,330.7 L672.5,330.1 L673.0,327.7 L673.5,328.8 L674.0,331.9 L674.5,329.7 L675.0,327.8 L675.5,325.6 L676.0,327.5 L676.5,328.2 L677.0,325.0 L677.5,322.7 L678.0,321.1 L678.5,321.7 L679.0,323.5 L679.5,324.2 L680.0,324.7 L680.5,324.8 L681.0,326.1 L681.5,326.0 L682.0,326.8 L682.5,327.3 L683.0,328.2 L683.5,326.7 L684.0,327.7 L684.5,328.1 L685.0,327.3 L685.5,324.2 L686.0,324.8 L686.5,326.3 L687.0,325.9 L687.5,326.3 L688.0,326.9 L688.5,327.6 L689.0,328.8 L689.5,330.7 L690.0,332.9 L690.5,333.7 L691.0,335.9 L691.5,337.8 L692.0,338.0 L692.5,341.6 L693.0,341.3 L693.5,342.2 L694.0,343.2 L694.5,347.1 L695.0,351.5 L695.5,353.8 L696.0,357.7 L696.5,360.7 L697.0,360.9 L697.5,363.4 L698.0,364.7 L698.5,365.5 L699.0,368.0 L699.5,367.3 L700.0,370.1 L700.5,369.5 L701.0,367.7 L701.5,367.5 L702.0,365.9 L702.5,365.3 L703.0,366.7 L703.5,364.3 L704.0,364.4 L704.5,362.2 L705.0,359.4 L705.5,359.3 L706.0,361.7 L706.5,363.0 L707.0,362.3 L707.5,361.1 L708.0,363.4 L708.5,360.4 L709.0,361.8 L709.5,362.1 L710.0,362.3 L710.5,363.9 L711.0,363.1 L711.5,367.6 L712.0,366.9 L712.5,363.2 L713.0,363.7 L713.5,365.8 L714.0,364.8 L714.5,366.5 L715.0,366.5 L715.5,366.0 L716.0,366.5 L716.5,367.3 L717.0,368.6 L717.5,368.9 L718.0,370.7 L718.5,370.6 L719.0,370.4 L719.5,367.5 L720.0,369.2 L720.5,369.7 L721.0,369.6 L721.5,369.2 L722.0,373.2 L722.5,373.5 L723.0,373.4 L723.5,371.4 L724.0,369.4 L724.5,371.7 L725.0,370.8 L725.5,371.6 L726.0,371.4 L726.5,370.9 L727.0,371.9 L727.5,373.7 L728.0,371.4 L728.5,373.4 L729.0,376.2 L729.5,374.5 L730.0,374.6 L730.5,376.6 L731.0,375.0 L731.5,377.2 L732.0,376.6 L732.5,376.3 L733.0,373.8 L733.5,372.6 L734.0,373.7 L734.5,373.8 L735.0,374.9 L735.5,374.2 L736.0,372.2 L736.5,372.4 L737.0,373.8 L737.5,369.9 L738.0,370.0 L738.5,369.7 L739.0,369.9 L739.5,368.7 L740.0,367.5 L740.5,366.4 L741.0,366.9 L741.5,367.3 L742.0,367.7 L742.5,366.6 L743.0,368.4 L743.5,367.7 L744.0,366.9 L744.5,366.2 L745.0,365.4 L745.5,364.4 L745.6,364.5 L746.0,364.3 L746.5,363.8 L747.0,364.8 L747.5,366.1 L748.0,366.2 L748.5,366.5 L749.0,367.3 L749.5,367.7 L750.0,368.4 L750.5,365.9 L751.0,364.7 L751.5,363.4 L752.0,363.0 L752.5,364.2 L753.0,363.3 L753.5,363.5 L754.0,364.5 L754.5,363.5 L755.0,364.5 L755.5,363.5 L756.0,364.1 L756.5,363.0 L757.0,363.7 L757.5,363.2 L758.0,363.6 L758.5,363.2 L759.0,364.5 L759.5,365.7 L760.0,365.0 L760.5,367.4 L761.0,366.0 L761.5,365.9 L762.0,364.9 L762.5,367.4 L763.0,368.1 L763.5,366.5 L764.0,366.3 L764.5,367.9 L765.0,366.6 L765.5,367.9 L766.0,368.5 L766.5,369.1 L767.0,371.0 L767.5,371.6 L768.0,372.0 L768.5,368.3 L769.0,370.2 L769.5,370.5 L770.0,371.4 L770.5,371.0 L771.0,373.2 L771.5,372.7 L772.0,375.1 L772.5,374.4 L773.0,374.6 L773.5,374.8 L774.0,374.4 L774.5,373.1 L775.0,375.7 L775.5,375.8 L776.0,377.5 L776.5,377.3 L777.0,376.6 L777.5,375.6 L778.0,376.2 L778.5,376.6 L779.0,375.7 L779.5,379.6 L780.0,379.5 L780.5,379.6 L781.0,380.6 L781.5,378.4 L782.0,379.9 L782.5,381.4 L783.0,380.7 L783.5,380.3 L784.0,382.1 L784.5,383.9 L785.0,385.4 L785.5,384.3 L786.0,383.6 L786.5,382.4 L787.0,381.8 L787.5,383.1 L788.0,384.9 L788.5,383.3 L789.0,382.2 L789.5,383.6 L790.0,383.9 L790.5,384.2 L791.0,379.2 L791.5,375.9 L792.0,372.7 L792.1,372.0 L792.5,374.1 L793.0,376.6 L793.5,379.1 L794.0,378.9 L794.5,378.9 L795.0,376.6 L795.5,376.4 L795.8,375.6 L796.0,375.9 L796.5,376.3 L797.0,376.3 L797.5,378.4 L798.0,377.6 L798.5,375.9 L799.0,374.2 L799.5,374.8 L800.0,374.4 L800.5,375.2 L801.0,374.6 L801.5,373.8 L801.6,373.9 L802.0,374.1 L802.5,373.8 L803.0,374.5 L803.5,374.6 L804.0,375.3 L804.5,374.3 L805.0,373.1 L805.5,372.5 L806.0,372.4 L806.5,370.5 L807.0,374.4 L807.5,373.3 L808.0,372.5 L808.5,373.8 L809.0,374.4 L809.5,371.9 L810.0,373.4 L810.5,370.8 L811.0,369.9 L811.5,370.7 L812.0,368.3 L812.5,369.5 L813.0,369.6 L813.5,371.3 L814.0,371.4 L814.5,370.6 L815.0,370.8 L815.5,370.8 L816.0,368.7 L816.5,368.9 L817.0,368.8 L817.5,368.6 L818.0,371.3 L818.5,372.1 L819.0,370.4 L819.5,373.1 L820.0,371.8 L820.5,372.9 L821.0,374.0 L821.5,371.7 L822.0,372.5 L822.5,370.1 L823.0,371.3 L823.5,370.1 L824.0,368.7 L824.5,371.6 L825.0,371.6 L825.5,373.5 L826.0,372.7 L826.5,372.7 L827.0,372.4 L827.5,371.5 L828.0,371.8 L828.5,370.3 L829.0,368.9 L829.5,367.6 L829.8,366.8 L830.0,367.4 L830.5,369.0 L831.0,370.6 L831.5,373.9 L832.0,374.6 L832.5,375.0 L833.0,373.5 L833.5,373.0 L834.0,374.9 L834.5,374.1 L835.0,373.7 L835.5,375.9 L836.0,375.7 L836.5,375.4 L836.7,374.2 L837.0,376.6 L837.5,377.6 L838.0,377.0 L838.5,378.3 L839.0,378.3 L839.5,380.3 L840.0,381.2 L840.5,380.0 L841.0,380.2 L841.5,380.2 L842.0,379.3 L842.5,380.6 L843.0,383.5 L843.5,384.0 L844.0,384.3 L844.5,382.4 L845.0,381.2 L845.5,382.8 L846.0,380.8 L846.4,380.1 L846.5,379.8 L847.0,380.9 L847.5,379.9 L848.0,381.0 L848.5,380.6 L849.0,382.1 L849.5,380.8 L850.0,381.8 L850.5,378.9 L851.0,379.0 L851.5,379.6 L852.0,378.8 L852.4,378.2 L852.5,378.3 L853.0,379.2 L853.5,380.2 L854.0,380.3 L854.5,379.7 L855.0,379.0 L855.5,379.9 L856.0,380.9 L856.5,381.8 L857.0,382.7 L857.5,384.8 L858.0,386.5 L858.5,386.4 L859.0,384.4 L859.5,384.5 L860.0,382.6 L860.5,383.2 L861.0,383.4 L861.5,382.8 L862.0,382.2 L862.5,383.4 L863.0,385.1 L863.5,383.5 L864.0,385.1 L864.5,384.5 L865.0,383.9 L865.2,383.7 L865.5,384.2 L866.0,385.1 L866.5,385.5 L867.0,384.7 L867.5,385.0 L868.0,383.5 L868.5,382.0 L868.6,381.7 L869.0,383.1 L869.5,384.9 L870.0,386.8 L870.5,384.7 L871.0,386.7 L871.5,387.9 L872.0,386.9 L872.5,386.9 L873.0,387.7 L873.5,388.5 L874.0,389.4 L874.5,390.2 L875.0,390.7 L875.5,390.9 L876.0,391.1 L876.5,390.0 L877.0,391.5 L877.5,392.4 L878.0,393.0 L878.5,392.7 L879.0,394.7 L879.5,395.0 L880.0,395.2 L880.5,393.3 L881.0,394.5 L881.5,395.2 L882.0,393.7 L882.5,392.9 L883.0,393.8 L883.5,394.6 L884.0,396.9 L884.5,396.6 L885.0,397.5 L885.5,396.2 L886.0,397.5 L886.5,394.6 L887.0,395.3 L887.3,396.0 L887.5,396.6 L888.0,396.1 L888.5,394.8 L889.0,394.4 L889.5,394.9 L890.0,397.7 L890.5,396.9 L891.0,397.0 L891.5,397.1 L892.0,397.2 L892.5,397.6 L893.0,398.0 L893.5,398.4 L894.0,398.0 L894.5,395.8 L895.0,398.0 L895.5,399.7 L896.0,399.6 L896.5,403.4 L897.0,400.6 L897.5,402.9 L898.0,402.4 L898.5,403.4 L899.0,403.5 L899.5,401.9 L900.0,404.0 L900.5,406.7 L901.0,407.9 L901.5,404.5 L902.0,409.5 L902.5,409.6 L903.0,407.1 L903.5,407.5 L904.0,407.6 L904.5,405.4 L905.0,407.6 L905.5,407.9 L906.0,409.8 L906.5,409.5 L907.0,410.2 L907.5,411.0 L908.0,411.6 L908.5,411.1 L909.0,409.7 L909.5,409.6 L910.0,410.1 L910.5,409.7 L911.0,409.9 L911.5,413.4 L912.0,412.6 L912.1,415.1 L912.5,414.5 L913.0,414.7 L913.5,413.9 L914.0,416.7 L914.5,419.0 L915.0,420.6 L915.5,418.4" fill="none" stroke="#c4ec5c" stroke-width="1.7" stroke-linejoin="round"/>
<path d="M109.1,283.5 L110.6,273.5 L112.1,264.0 L113.9,277.0 L115.8,291.0 L117.6,279.8 L118.9,281.7 L120.5,268.7 L122.1,256.6 L123.6,262.1 L125.1,260.3 L126.6,266.9 L128.2,274.2 L129.6,266.8 L131.0,260.3 L132.2,261.1 L133.5,262.9 L134.7,264.0 L135.8,259.9 L137.0,255.0 L138.1,251.4 L139.4,257.4 L140.7,264.0 L142.1,272.1 L143.6,280.7 L144.9,272.1 L146.2,264.9 L147.3,263.6 L148.5,263.6 L149.6,262.1 L151.0,269.1 L152.4,275.2 L153.6,286.8 L154.9,297.3 L156.1,308.6 L157.5,311.8 L158.9,316.0 L160.3,312.6 L161.7,310.4 L163.1,315.6 L164.4,321.6 L165.6,317.0 L166.8,313.8 L167.9,308.9 L169.1,304.9 L170.5,313.0 L172.0,322.7 L173.4,330.9 L174.7,327.5 L176.1,323.3 L177.4,319.7 L178.6,321.0 L179.8,323.9 L180.9,324.9 L182.1,327.2 L183.2,328.5 L184.4,331.4 L185.5,332.2 L186.7,334.6 L187.9,326.9 L189.1,320.3 L190.2,312.0 L191.4,304.9 L192.5,301.4 L193.6,299.6 L194.8,295.8 L195.9,293.1 L197.0,290.0 L198.2,288.4 L199.3,285.6 L200.4,284.8 L201.6,282.6 L202.8,283.5 L203.9,283.2 L205.0,284.3 L206.2,284.4 L207.4,282.1 L208.6,279.0 L209.7,277.1 L210.9,274.2 L212.1,279.9 L213.4,284.1 L214.6,290.0 L215.6,284.0 L217.4,284.9 L218.8,291.6 L220.2,299.3 L221.4,293.9 L222.5,290.3 L223.7,284.9 L224.8,277.0 L226.0,267.8 L228.2,265.1 L229.3,260.0 L230.5,256.0 L231.9,254.2 L233.2,246.6 L234.6,255.1 L236.4,255.1 L237.3,260.6 L239.1,254.2 L240.2,253.1 L241.3,252.4 L243.1,243.9 L244.5,248.8 L246.3,249.7 L247.6,258.8 L248.8,259.1 L249.9,260.6 L251.7,265.1 L253.5,263.3 L254.4,267.8 L255.8,266.9 L256.7,279.5 L258.9,282.2 L260.2,284.1 L262.2,287.3 L264.1,284.7 L266.1,277.6 L268.0,279.5 L269.3,287.3 L271.3,288.0 L273.2,299.1 L274.5,296.8 L275.8,295.8 L277.8,298.4 L279.1,309.8 L280.4,319.9 L281.7,316.5 L283.0,312.1 L284.3,311.6 L285.6,310.1 L286.2,314.7 L287.6,304.3 L288.9,294.5 L290.8,296.5 L292.8,293.9 L294.1,303.0 L295.4,313.4 L297.3,309.5 L298.6,302.2 L299.9,293.9 L301.9,309.5 L303.8,300.4 L305.8,311.4 L307.1,305.3 L308.4,299.7 L310.3,297.8 L311.4,293.8 L312.5,289.0 L313.6,285.4 L315.5,288.0 L316.8,287.3 L318.1,291.9 L319.5,297.8 L320.8,304.9 L322.1,303.8 L323.4,302.3 L324.7,304.2 L326.0,304.9 L327.3,306.6 L328.6,307.5 L330.5,311.4 L332.5,308.8 L333.8,318.6 L334.1,333.0 L334.9,341.9 L337.0,334.1 L338.8,341.9 L340.6,338.2 L341.8,340.8 L343.0,342.9 L345.1,332.5 L346.9,338.2 L348.7,334.6 L350.0,338.2 L351.0,350.0 L352.5,373.4 L353.6,383.1 L354.8,392.2 L356.0,386.5 L357.2,379.7 L358.5,383.9 L359.8,386.8 L361.1,390.6 L362.6,383.5 L364.2,377.3 L365.4,383.4 L366.6,389.8 L367.9,382.3 L369.2,376.1 L370.5,368.8 L371.6,374.5 L372.8,378.9 L374.0,373.3 L375.2,366.4 L376.8,369.2 L378.3,371.1 L379.6,369.2 L380.9,365.6 L382.2,363.3 L383.4,365.8 L384.5,368.8 L386.1,381.2 L387.6,382.5 L389.2,382.8 L390.0,387.5 L391.3,387.6 L392.6,388.3 L393.9,388.3 L395.5,392.2 L396.6,383.2 L397.8,375.0 L399.0,380.0 L400.2,385.9 L401.4,390.0 L402.5,394.5 L404.1,392.4 L405.6,390.6 L407.2,388.0 L408.8,386.7 L409.9,388.3 L411.1,390.6 L412.6,390.3 L414.2,391.4 L415.5,390.8 L416.8,391.7 L418.1,391.4 L419.3,387.9 L420.5,383.6 L421.6,383.6 L422.8,382.8 L424.0,381.8 L425.2,379.7 L426.7,403.1 L428.3,411.7 L429.5,410.6 L430.6,408.6 L432.2,411.0 L433.8,412.5 L435.1,410.6 L436.4,407.2 L437.7,405.5 L439.0,404.8 L440.3,405.3 L441.6,404.7 L442.8,403.7 L443.9,401.6 L445.1,405.0 L446.2,407.8 L447.8,407.7 L449.4,407.0 L450.9,408.9 L452.5,409.4 L453.8,408.8 L455.1,406.9 L456.4,406.2 L457.6,401.4 L458.8,396.9 L459.9,388.7 L461.1,381.2 L462.2,380.0 L463.4,379.7 L465.0,371.9 L466.6,369.3 L468.1,366.4 L469.7,368.8 L471.2,370.3 L472.4,374.3 L473.6,377.3 L474.9,372.3 L476.2,366.4 L477.5,361.7 L478.6,363.2 L479.8,365.6 L481.0,366.7 L482.2,368.8 L483.8,370.7 L485.3,373.4 L486.5,378.8 L487.7,385.2 L489.0,372.4 L490.4,360.7 L491.8,348.4 L493.1,346.6 L494.4,348.4 L496.2,350.1 L497.9,345.7 L499.7,347.5 L501.9,347.5 L503.6,338.7 L505.4,337.8 L507.1,338.7 L508.9,350.1 L510.0,346.3 L511.1,342.2 L512.8,342.6 L514.2,346.6 L515.5,341.3 L516.8,345.5 L518.1,350.1 L519.9,351.9 L521.0,351.8 L522.1,350.6 L523.6,352.8 L525.1,353.6 L527.3,347.0 L529.1,351.4 L530.9,351.9 L531.7,356.3 L533.9,355.4 L535.7,359.8 L537.9,353.6 L539.0,345.2 L540.1,337.4 L541.4,337.0 L542.7,337.4 L544.0,335.8 L545.4,335.2 L547.1,338.7 L548.7,336.6 L550.2,333.9 L551.5,337.8 L552.7,338.1 L553.8,339.3 L555.0,339.6 L556.8,342.2 L558.0,341.6 L559.1,342.0 L560.3,341.3 L561.6,342.1 L562.9,342.2 L564.3,340.5 L565.6,341.0 L566.9,342.2 L568.6,355.4 L570.0,355.8 L571.3,355.0 L573.0,355.4 L574.4,348.4 L575.7,356.3 L577.9,356.7 L579.0,358.3 L580.1,359.6 L581.3,358.4 L582.4,355.9 L583.6,355.2 L584.7,353.2 L585.9,351.8 L587.1,350.6 L588.3,350.5 L589.4,349.2 L590.6,349.0 L591.8,347.9 L593.0,349.3 L594.2,349.7 L595.5,351.1 L596.7,351.8 L598.2,347.3 L599.6,342.1 L601.7,331.7 L602.7,324.4 L604.2,323.4 L605.8,321.2 L607.9,320.2 L609.5,321.2 L611.0,315.0 L612.6,318.6 L614.2,313.4 L615.5,314.9 L616.8,317.1 L618.3,313.9 L619.9,311.9 L621.5,309.8 L623.0,295.2 L625.1,294.7 L626.7,300.4 L628.8,298.3 L630.3,297.2 L631.9,295.7 L633.5,297.6 L635.0,298.9 L636.3,296.5 L637.6,293.1 L639.1,295.7 L641.0,287.2 L643.0,295.7 L644.9,299.0 L646.2,301.2 L647.5,302.2 L649.1,300.0 L650.8,297.0 L652.4,297.3 L654.0,297.0 L656.0,290.5 L657.3,283.8 L658.6,277.5 L659.9,275.4 L661.2,274.2 L662.5,275.6 L663.8,277.5 L665.8,255.3 L667.7,250.8 L669.0,244.3 L671.0,242.3 L672.9,235.2 L674.9,242.3 L676.2,252.7 L678.1,244.9 L680.1,239.1 L682.0,238.4 L683.3,246.2 L684.6,242.6 L685.9,237.8 L687.9,241.0 L689.2,247.2 L690.5,254.7 L691.8,250.0 L693.1,245.8 L694.4,248.0 L695.6,250.7 L697.6,252.8 L698.1,260.4 L699.7,250.7 L701.8,255.6 L703.2,254.9 L705.3,246.5 L707.4,238.2 L708.8,241.7 L710.8,241.0 L712.9,243.8 L714.3,240.4 L715.7,238.2 L717.8,241.0 L719.9,245.1 L721.2,246.0 L722.6,247.9 L724.7,252.1 L725.8,256.2 L727.0,254.3 L728.2,253.5 L730.3,261.1 L731.7,264.6 L733.8,261.8 L735.8,250.0 L737.2,246.2 L738.6,243.1 L740.0,245.1 L742.1,243.8 L744.2,249.3 L746.2,269.4 L747.6,256.2 L749.7,259.0 L751.1,261.1 L753.2,258.3 L755.3,250.0 L757.4,258.3 L759.4,260.4 L760.8,265.1 L762.2,269.4 L764.3,261.1 L766.4,257.6 L768.5,252.1 L770.6,250.7 L772.6,247.9 L774.7,256.2 L776.8,253.5 L778.9,256.9 L780.3,251.0 L781.7,244.4 L783.0,243.6 L784.4,241.7 L786.5,244.4 L787.7,240.0 L788.9,236.1 L790.1,239.3 L791.4,243.1 L792.3,237.2 L793.2,230.9 L794.8,228.3 L795.7,213.1 L797.0,209.9 L798.6,209.3 L799.5,206.7 L800.8,199.8 L802.7,207.4 L804.0,201.7 L805.9,202.3 L807.8,199.1 L809.0,201.7 L810.3,196.6 L811.6,197.9 L812.9,191.5 L814.8,199.8 L816.7,203.6 L817.9,200.4 L819.8,206.7 L821.7,201.7 L823.3,195.9 L824.9,206.7 L826.8,202.9 L828.7,194.0 L830.9,191.5 L832.5,194.7 L834.4,192.8 L836.0,194.0 L837.1,197.9 L838.2,201.0 L839.5,201.7 L840.8,201.7 L842.0,201.7 L843.3,201.0 L844.6,202.0 L845.9,201.7 L847.8,203.6 L849.4,216.9 L850.9,205.5 L852.2,214.4 L853.5,211.8 L855.4,225.8 L857.3,218.8 L859.2,218.8 L860.5,215.6 L862.4,214.4 L864.3,216.9 L866.2,220.1 L868.1,218.2 L870.0,229.0 L871.9,218.8 L873.1,217.9 L874.4,217.5 L876.3,214.4 L877.6,206.1 L878.9,205.0 L880.1,204.2 L882.0,202.3 L883.3,203.6 L885.2,194.0 L886.5,194.4 L887.8,193.4 L889.7,190.2 L891.6,185.8 L893.5,188.3 L895.4,189.6 L896.6,192.8 L898.5,195.3 L899.8,191.8 L901.1,187.1 L903.0,190.9 L904.9,191.5 L906.8,195.9 L908.7,190.2 L910.0,190.6 L911.2,189.6 L912.5,189.0 L913.8,187.7" fill="none" stroke="#000" stroke-width="1.7" stroke-linejoin="round"/>
<text x="25" y="550.3" font-size="12.7" fill="#6a6a6a" textLength="228" lengthAdjust="spacing">&#169; 2025 Glassnode. All Rights Reserved.</text>
<g fill="none" stroke="#d8d8d8" stroke-width="8.5" transform="translate(792.64,467.5) scale(0.2765)"><ellipse cx="307" cy="287.5" rx="16" ry="19.5"/>
<path d="M323,262 L323,318 Q323,333 306,333 Q294,333 289,326"/>
<path d="M353.8,241 L353.8,313" stroke-width="10"/>
<ellipse cx="393" cy="287.5" rx="18" ry="19.5"/>
<path d="M414.5,262 L414.5,313"/>
<path d="M463,272 C459,266 452,263 447,263 C438,263 434.5,269 434.5,275 C434.5,293 464,282 464,300 C464,307 457,312 448,312 C440,312 434,309 431,303"/>
<path d="M503.5,272 C499.5,266 492.5,263 487.5,263 C478.5,263 475,269 475,275 C475,293 504.5,282 504.5,300 C504.5,307 497.5,312 488.5,312 C480.5,312 474.5,309 471.5,303"/>
<path d="M521,262 L521,313 M521,290 C521,272 531,268 540,268 C551,268 557,275 557,287 L557,313"/>
<ellipse cx="595.5" cy="287.5" rx="21" ry="20"/>
<ellipse cx="647" cy="287.5" rx="19" ry="20"/>
<path d="M672.5,238 L672.5,313"/>
<path d="M693,287.5 L734,287.5 C734,274 725,267 713.5,267 C702,267 693,276 693,287.5 C693,299 702,308 713.5,308 C721,308 727,305 731,299"/></g>
</g><use href="#chart" filter="url(#sb)" opacity="0.42"/></svg>
</body></html>
